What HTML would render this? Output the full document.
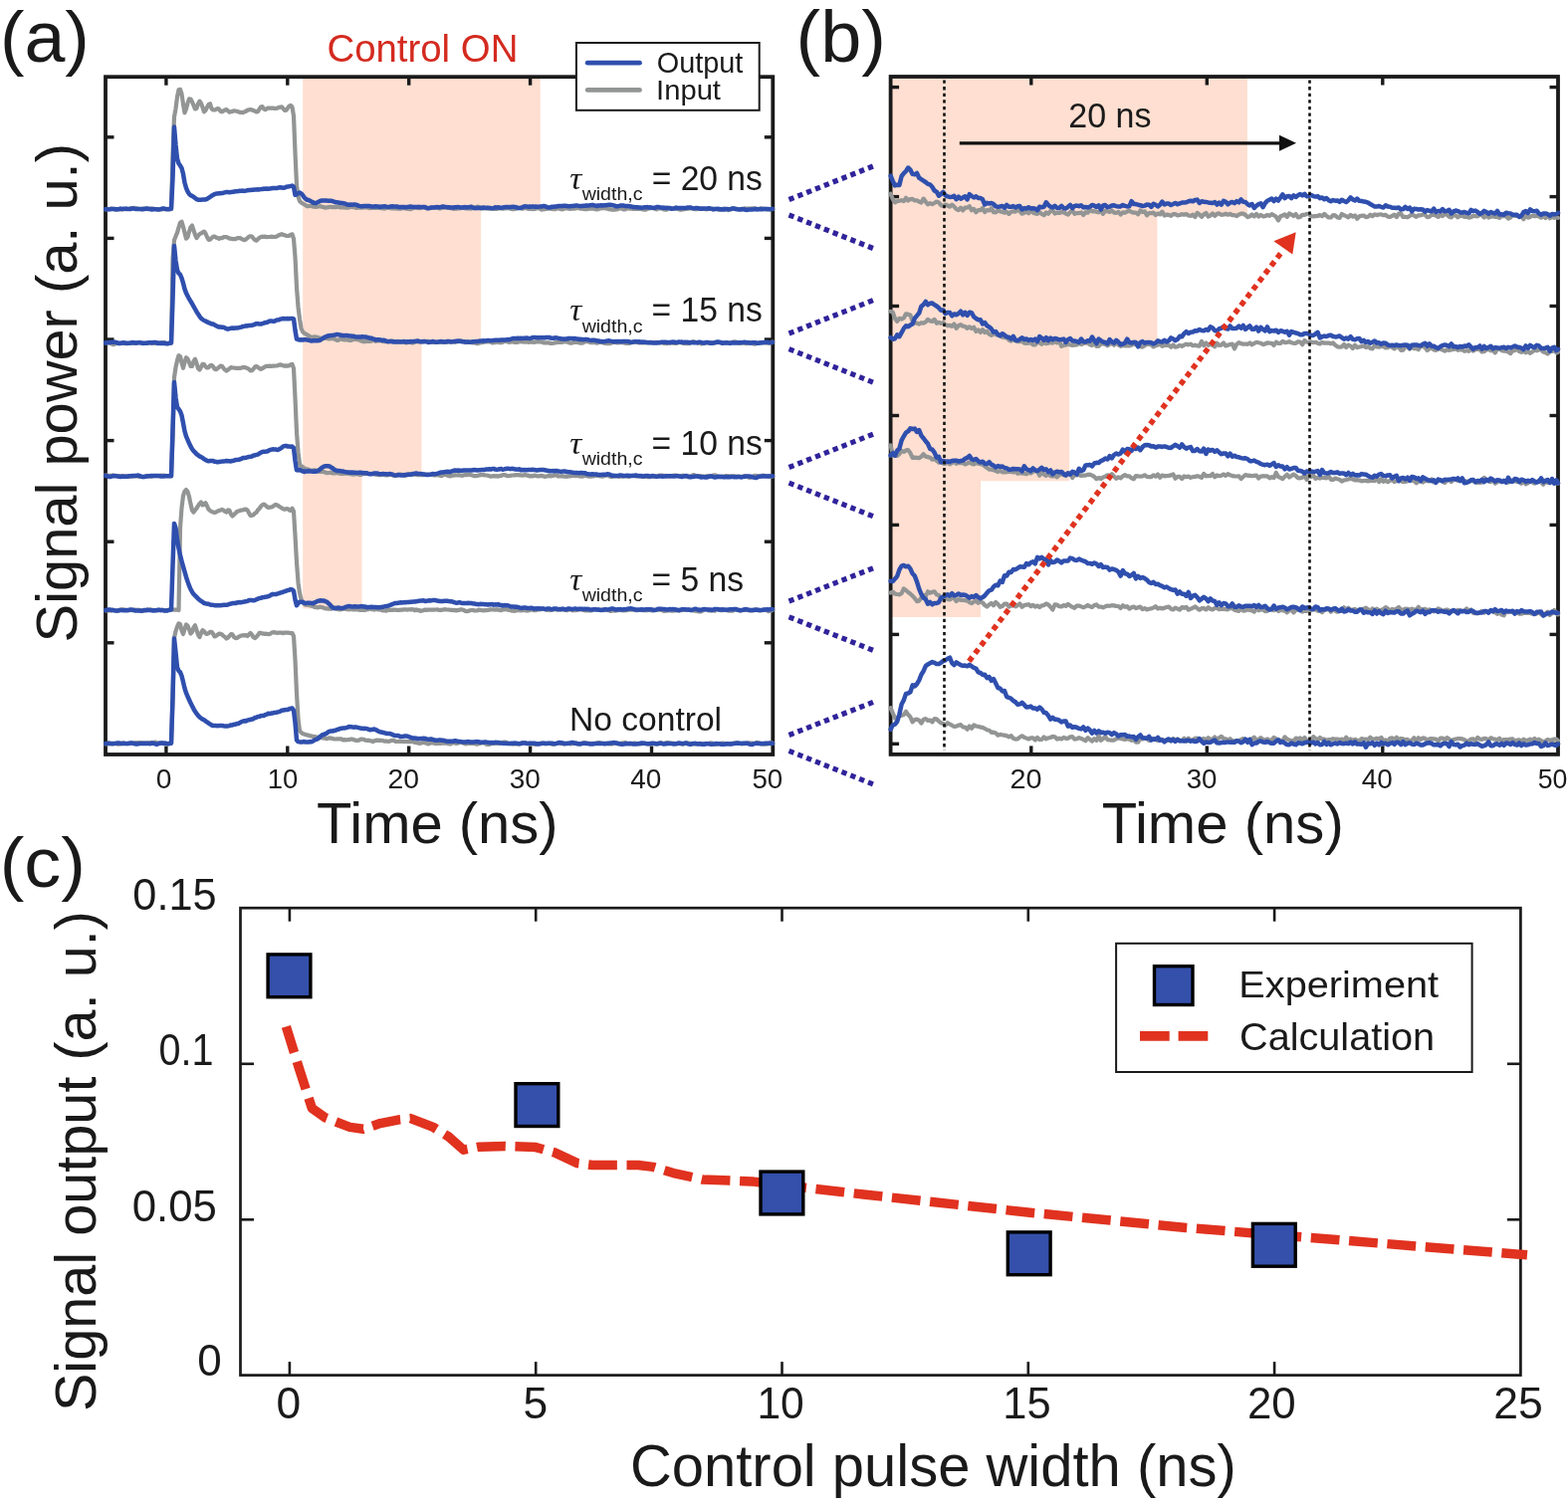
<!DOCTYPE html>
<html><head><meta charset="utf-8"><title>Figure</title>
<style>html,body{margin:0;padding:0;background:#fff;overflow:hidden;width:1575px;height:1512px;}svg{display:block;}</style></head>
<body><svg width="1575" height="1512" viewBox="0 0 1575 1512">
<defs><clipPath id="clipa"><rect x="106.0" y="77.2" width="670.3" height="680.8"/></clipPath>
<clipPath id="clipb"><rect x="894.6" y="77.0" width="670.4" height="680.9"/></clipPath></defs>
<rect width="1575" height="1512" fill="#fff"/>
<polygon points="304.2,77.2 542.8,77.2 542.8,209.5 483.0,209.5 483.0,343.5 423.5,343.5 423.5,477.5 363.5,477.5 363.5,611.5 304.2,611.5" fill="#fedfd1"/>
<rect x="106.0" y="77.2" width="670.3" height="680.8" fill="none" stroke="#1a1a1a" stroke-width="3.8"/>
<line x1="166.9" y1="77.2" x2="166.9" y2="85.7" stroke="#1a1a1a" stroke-width="3.4" />
<line x1="166.9" y1="758.0" x2="166.9" y2="749.5" stroke="#1a1a1a" stroke-width="3.4" />
<line x1="288.8" y1="77.2" x2="288.8" y2="85.7" stroke="#1a1a1a" stroke-width="3.4" />
<line x1="288.8" y1="758.0" x2="288.8" y2="749.5" stroke="#1a1a1a" stroke-width="3.4" />
<line x1="410.7" y1="77.2" x2="410.7" y2="85.7" stroke="#1a1a1a" stroke-width="3.4" />
<line x1="410.7" y1="758.0" x2="410.7" y2="749.5" stroke="#1a1a1a" stroke-width="3.4" />
<line x1="532.6" y1="77.2" x2="532.6" y2="85.7" stroke="#1a1a1a" stroke-width="3.4" />
<line x1="532.6" y1="758.0" x2="532.6" y2="749.5" stroke="#1a1a1a" stroke-width="3.4" />
<line x1="654.5" y1="77.2" x2="654.5" y2="85.7" stroke="#1a1a1a" stroke-width="3.4" />
<line x1="654.5" y1="758.0" x2="654.5" y2="749.5" stroke="#1a1a1a" stroke-width="3.4" />
<line x1="106.0" y1="137.8" x2="114.5" y2="137.8" stroke="#1a1a1a" stroke-width="3.4" />
<line x1="776.3" y1="137.8" x2="767.8" y2="137.8" stroke="#1a1a1a" stroke-width="3.4" />
<line x1="106.0" y1="239.4" x2="114.5" y2="239.4" stroke="#1a1a1a" stroke-width="3.4" />
<line x1="776.3" y1="239.4" x2="767.8" y2="239.4" stroke="#1a1a1a" stroke-width="3.4" />
<line x1="106.0" y1="341.0" x2="114.5" y2="341.0" stroke="#1a1a1a" stroke-width="3.4" />
<line x1="776.3" y1="341.0" x2="767.8" y2="341.0" stroke="#1a1a1a" stroke-width="3.4" />
<line x1="106.0" y1="442.6" x2="114.5" y2="442.6" stroke="#1a1a1a" stroke-width="3.4" />
<line x1="776.3" y1="442.6" x2="767.8" y2="442.6" stroke="#1a1a1a" stroke-width="3.4" />
<line x1="106.0" y1="544.2" x2="114.5" y2="544.2" stroke="#1a1a1a" stroke-width="3.4" />
<line x1="776.3" y1="544.2" x2="767.8" y2="544.2" stroke="#1a1a1a" stroke-width="3.4" />
<line x1="106.0" y1="645.8" x2="114.5" y2="645.8" stroke="#1a1a1a" stroke-width="3.4" />
<line x1="776.3" y1="645.8" x2="767.8" y2="645.8" stroke="#1a1a1a" stroke-width="3.4" />
<line x1="106.0" y1="747.4" x2="114.5" y2="747.4" stroke="#1a1a1a" stroke-width="3.4" />
<line x1="776.3" y1="747.4" x2="767.8" y2="747.4" stroke="#1a1a1a" stroke-width="3.4" />
<path d="M106.0,210.3 L107.5,210.2 L109.0,210.0 L110.5,209.8 L112.0,209.6 L113.5,209.8 L115.0,210.3 L116.5,210.5 L118.0,210.3 L119.5,210.0 L121.0,210.3 L122.5,210.5 L124.0,210.1 L125.5,210.0 L127.0,210.1 L128.5,210.0 L130.0,209.9 L131.5,209.2 L133.0,209.2 L134.5,208.8 L136.0,209.3 L137.5,209.3 L139.0,209.9 L140.5,210.0 L142.0,210.3 L143.5,209.5 L145.0,209.3 L146.5,209.3 L148.0,210.1 L149.5,209.8 L151.0,209.7 L152.5,209.4 L154.0,209.6 L155.5,210.0 L157.0,210.0 L158.5,210.3 L160.0,210.2 L161.5,210.3 L163.0,210.3 L164.5,210.0 L166.0,210.2 L167.5,209.9 L169.0,209.9 L170.5,210.3 L172.0,210.2 L173.5,156.3 L175.0,117.3 L176.5,109.3 L178.0,97.4 L179.5,90.3 L181.0,89.8 L182.5,94.2 L184.0,104.8 L185.5,113.3 L187.0,109.4 L188.5,103.6 L190.0,99.4 L191.5,99.5 L193.0,102.3 L194.5,105.9 L196.0,109.4 L197.5,108.9 L199.0,104.2 L200.5,101.6 L202.0,103.8 L203.5,107.9 L205.0,112.3 L206.5,110.9 L208.0,107.7 L209.5,105.1 L211.0,104.2 L212.5,109.2 L214.0,110.4 L215.5,110.5 L217.0,109.9 L218.5,109.1 L220.0,109.6 L221.5,111.8 L223.0,112.3 L224.5,111.4 L226.0,110.5 L227.5,110.0 L229.0,111.4 L230.5,112.7 L232.0,112.3 L233.5,111.9 L235.0,111.3 L236.5,111.5 L238.0,111.8 L239.5,112.4 L241.0,112.8 L242.5,112.9 L244.0,113.1 L245.5,112.3 L247.0,111.9 L248.5,110.6 L250.0,110.4 L251.5,110.0 L253.0,110.4 L254.5,110.9 L256.0,111.7 L257.5,112.5 L259.0,112.0 L260.5,109.7 L262.0,107.5 L263.5,107.1 L265.0,109.4 L266.5,110.1 L268.0,109.2 L269.5,108.5 L271.0,108.6 L272.5,108.6 L274.0,108.7 L275.5,108.8 L277.0,108.9 L278.5,108.7 L280.0,107.8 L281.5,107.7 L283.0,107.4 L284.5,109.2 L286.0,111.0 L287.5,110.7 L289.0,108.6 L290.5,106.6 L292.0,105.9 L293.5,107.5 L295.0,116.6 L296.5,154.0 L298.0,186.6 L299.5,197.3 L301.0,202.0 L302.5,203.5 L304.0,204.5 L305.5,205.3 L307.0,206.2 L308.5,207.1 L310.0,207.1 L311.5,207.0 L313.0,207.0 L314.5,207.6 L316.0,207.7 L317.5,208.0 L319.0,207.5 L320.5,207.5 L322.0,207.2 L323.5,207.8 L325.0,208.0 L326.5,208.7 L328.0,208.4 L329.5,208.3 L331.0,207.9 L332.5,207.8 L334.0,208.1 L335.5,208.1 L337.0,208.2 L338.5,207.8 L340.0,207.7 L341.5,208.3 L343.0,208.5 L344.5,208.5 L346.0,208.1 L347.5,208.7 L349.0,208.7 L350.5,208.5 L352.0,208.0 L353.5,207.9 L355.0,208.2 L356.5,208.4 L358.0,208.9 L359.5,208.5 L361.0,208.7 L362.5,208.5 L364.0,208.7 L365.5,208.3 L367.0,208.1 L368.5,208.5 L370.0,208.7 L371.5,209.1 L373.0,208.8 L374.5,208.8 L376.0,208.6 L377.5,208.8 L379.0,208.8 L380.5,208.9 L382.0,208.8 L383.5,209.2 L385.0,209.4 L386.5,209.6 L388.0,209.1 L389.5,208.5 L391.0,208.7 L392.5,209.1 L394.0,209.5 L395.5,209.4 L397.0,209.3 L398.5,209.6 L400.0,209.7 L401.5,209.4 L403.0,209.6 L404.5,209.0 L406.0,209.3 L407.5,209.1 L409.0,209.7 L410.5,210.0 L412.0,210.2 L413.5,209.7 L415.0,208.7 L416.5,208.5 L418.0,208.6 L419.5,209.0 L421.0,209.1 L422.5,208.9 L424.0,208.3 L425.5,208.2 L427.0,208.6 L428.5,209.2 L430.0,209.1 L431.5,208.9 L433.0,208.5 L434.5,208.5 L436.0,208.4 L437.5,208.4 L439.0,208.6 L440.5,208.9 L442.0,209.4 L443.5,209.0 L445.0,208.9 L446.5,208.5 L448.0,208.5 L449.5,208.8 L451.0,208.8 L452.5,209.2 L454.0,209.2 L455.5,210.0 L457.0,209.5 L458.5,209.7 L460.0,209.1 L461.5,209.5 L463.0,208.9 L464.5,208.8 L466.0,209.0 L467.5,209.4 L469.0,209.5 L470.5,209.3 L472.0,209.6 L473.5,209.6 L475.0,209.1 L476.5,208.6 L478.0,208.0 L479.5,207.7 L481.0,207.8 L482.5,208.7 L484.0,209.6 L485.5,209.5 L487.0,208.8 L488.5,209.1 L490.0,209.5 L491.5,209.8 L493.0,209.5 L494.5,209.4 L496.0,209.7 L497.5,209.8 L499.0,209.9 L500.5,209.4 L502.0,209.4 L503.5,209.1 L505.0,209.7 L506.5,209.2 L508.0,209.4 L509.5,209.1 L511.0,209.1 L512.5,209.6 L514.0,210.0 L515.5,210.3 L517.0,210.0 L518.5,209.7 L520.0,209.1 L521.5,209.0 L523.0,208.9 L524.5,209.6 L526.0,209.3 L527.5,209.2 L529.0,209.1 L530.5,209.8 L532.0,209.9 L533.5,210.0 L535.0,210.1 L536.5,209.9 L538.0,209.8 L539.5,208.8 L541.0,209.4 L542.5,209.8 L544.0,210.6 L545.5,210.3 L547.0,210.1 L548.5,209.9 L550.0,209.7 L551.5,209.6 L553.0,209.5 L554.5,210.0 L556.0,210.2 L557.5,210.2 L559.0,209.6 L560.5,209.3 L562.0,209.8 L563.5,210.1 L565.0,210.3 L566.5,209.7 L568.0,209.3 L569.5,209.3 L571.0,209.6 L572.5,209.8 L574.0,209.8 L575.5,209.5 L577.0,209.6 L578.5,209.2 L580.0,209.2 L581.5,209.0 L583.0,209.7 L584.5,209.5 L586.0,209.9 L587.5,210.1 L589.0,210.2 L590.5,209.9 L592.0,209.6 L593.5,209.6 L595.0,209.5 L596.5,209.6 L598.0,210.2 L599.5,210.4 L601.0,210.2 L602.5,209.4 L604.0,209.5 L605.5,209.2 L607.0,209.2 L608.5,209.5 L610.0,209.6 L611.5,210.2 L613.0,210.3 L614.5,210.6 L616.0,210.5 L617.5,210.6 L619.0,210.5 L620.5,210.1 L622.0,209.2 L623.5,209.3 L625.0,209.9 L626.5,210.5 L628.0,210.3 L629.5,209.6 L631.0,209.2 L632.5,209.6 L634.0,209.7 L635.5,209.9 L637.0,209.9 L638.5,209.9 L640.0,209.9 L641.5,209.8 L643.0,209.9 L644.5,210.0 L646.0,210.5 L647.5,210.7 L649.0,210.6 L650.5,209.6 L652.0,209.5 L653.5,209.0 L655.0,209.1 L656.5,209.2 L658.0,209.9 L659.5,210.3 L661.0,209.6 L662.5,209.3 L664.0,209.1 L665.5,209.8 L667.0,210.5 L668.5,210.8 L670.0,210.4 L671.5,209.4 L673.0,209.4 L674.5,209.5 L676.0,209.5 L677.5,209.6 L679.0,209.3 L680.5,210.0 L682.0,210.2 L683.5,210.8 L685.0,210.4 L686.5,210.3 L688.0,209.9 L689.5,209.9 L691.0,209.7 L692.5,209.4 L694.0,209.1 L695.5,209.4 L697.0,209.7 L698.5,210.2 L700.0,210.2 L701.5,209.8 L703.0,209.5 L704.5,209.3 L706.0,209.9 L707.5,210.0 L709.0,210.3 L710.5,210.2 L712.0,210.0 L713.5,209.4 L715.0,209.6 L716.5,210.1 L718.0,209.8 L719.5,210.0 L721.0,210.0 L722.5,210.9 L724.0,210.4 L725.5,210.2 L727.0,209.5 L728.5,210.3 L730.0,210.3 L731.5,211.1 L733.0,210.2 L734.5,210.3 L736.0,209.4 L737.5,209.5 L739.0,209.7 L740.5,209.8 L742.0,210.2 L743.5,210.0 L745.0,210.1 L746.5,209.7 L748.0,209.4 L749.5,209.7 L751.0,209.7 L752.5,209.6 L754.0,209.5 L755.5,209.4 L757.0,209.3 L758.5,209.3 L760.0,209.9 L761.5,209.8 L763.0,209.8 L764.5,209.4 L766.0,209.5 L767.5,209.8 L769.0,209.8 L770.5,210.5 L772.0,210.1 L773.5,210.3 L775.0,209.8 L776.0,210.0" fill="none" stroke="#939594" stroke-width="4.2" stroke-linejoin="round" stroke-linecap="round" />
<path d="M106.0,210.2 L107.5,210.1 L109.0,210.4 L110.5,210.3 L112.0,210.1 L113.5,209.9 L115.0,210.0 L116.5,210.4 L118.0,210.2 L119.5,210.2 L121.0,209.6 L122.5,210.0 L124.0,209.8 L125.5,209.7 L127.0,209.6 L128.5,210.0 L130.0,210.1 L131.5,209.9 L133.0,209.5 L134.5,209.6 L136.0,209.9 L137.5,209.9 L139.0,210.0 L140.5,210.0 L142.0,210.0 L143.5,210.3 L145.0,209.9 L146.5,209.8 L148.0,209.4 L149.5,210.0 L151.0,210.1 L152.5,210.6 L154.0,210.2 L155.5,210.3 L157.0,210.2 L158.5,210.6 L160.0,210.4 L161.5,210.1 L163.0,209.5 L164.5,209.4 L166.0,209.9 L167.5,210.2 L169.0,210.3 L170.5,209.9 L172.0,209.6 L173.5,179.1 L175.0,127.6 L176.5,145.8 L178.0,159.5 L179.5,164.2 L181.0,166.3 L182.5,168.8 L184.0,174.8 L185.5,183.5 L187.0,188.9 L188.5,192.4 L190.0,194.9 L191.5,196.2 L193.0,196.9 L194.5,197.9 L196.0,199.0 L197.5,200.1 L199.0,200.7 L200.5,200.7 L202.0,200.7 L203.5,200.4 L205.0,200.5 L206.5,200.4 L208.0,199.8 L209.5,198.8 L211.0,197.8 L212.5,196.8 L214.0,195.9 L215.5,195.1 L217.0,194.6 L218.5,194.6 L220.0,194.3 L221.5,194.3 L223.0,194.0 L224.5,193.7 L226.0,193.3 L227.5,193.1 L229.0,193.1 L230.5,193.2 L232.0,193.1 L233.5,192.8 L235.0,192.7 L236.5,192.2 L238.0,192.2 L239.5,192.0 L241.0,191.7 L242.5,191.7 L244.0,191.6 L245.5,191.9 L247.0,191.6 L248.5,191.3 L250.0,191.0 L251.5,190.9 L253.0,190.7 L254.5,190.8 L256.0,190.4 L257.5,190.5 L259.0,190.3 L260.5,190.4 L262.0,190.1 L263.5,190.1 L265.0,189.6 L266.5,189.7 L268.0,189.5 L269.5,189.7 L271.0,189.6 L272.5,189.3 L274.0,189.0 L275.5,189.0 L277.0,189.1 L278.5,189.0 L280.0,188.4 L281.5,188.3 L283.0,188.4 L284.5,188.8 L286.0,188.6 L287.5,187.8 L289.0,187.6 L290.5,187.3 L292.0,186.9 L293.5,186.6 L295.0,187.8 L296.5,195.8 L298.0,195.3 L299.5,194.2 L301.0,193.6 L302.5,194.4 L304.0,196.0 L305.5,198.2 L307.0,199.8 L308.5,200.7 L310.0,201.0 L311.5,201.7 L313.0,202.6 L314.5,203.5 L316.0,204.0 L317.5,204.0 L319.0,203.3 L320.5,202.5 L322.0,201.7 L323.5,201.4 L325.0,201.5 L326.5,201.5 L328.0,201.6 L329.5,201.7 L331.0,201.7 L332.5,201.7 L334.0,202.1 L335.5,202.6 L337.0,203.3 L338.5,203.2 L340.0,203.5 L341.5,203.7 L343.0,204.2 L344.5,204.1 L346.0,204.4 L347.5,205.0 L349.0,205.6 L350.5,205.7 L352.0,205.6 L353.5,205.8 L355.0,205.5 L356.5,205.6 L358.0,205.7 L359.5,206.5 L361.0,206.9 L362.5,207.2 L364.0,207.2 L365.5,207.0 L367.0,207.0 L368.5,206.9 L370.0,206.9 L371.5,207.0 L373.0,207.6 L374.5,207.6 L376.0,207.5 L377.5,207.2 L379.0,207.6 L380.5,207.6 L382.0,208.0 L383.5,207.5 L385.0,207.5 L386.5,207.2 L388.0,207.6 L389.5,207.9 L391.0,207.7 L392.5,207.4 L394.0,207.3 L395.5,207.5 L397.0,207.4 L398.5,207.5 L400.0,207.8 L401.5,208.2 L403.0,207.9 L404.5,208.1 L406.0,207.9 L407.5,208.3 L409.0,207.9 L410.5,207.8 L412.0,207.6 L413.5,207.7 L415.0,208.0 L416.5,208.1 L418.0,208.0 L419.5,207.9 L421.0,207.8 L422.5,208.2 L424.0,208.1 L425.5,208.1 L427.0,208.1 L428.5,208.8 L430.0,209.3 L431.5,209.1 L433.0,208.6 L434.5,208.6 L436.0,208.5 L437.5,208.3 L439.0,208.0 L440.5,208.2 L442.0,208.2 L443.5,207.8 L445.0,207.5 L446.5,207.8 L448.0,208.0 L449.5,208.3 L451.0,208.2 L452.5,208.5 L454.0,208.4 L455.5,208.5 L457.0,208.2 L458.5,208.2 L460.0,207.9 L461.5,208.3 L463.0,208.4 L464.5,208.5 L466.0,208.2 L467.5,208.1 L469.0,208.5 L470.5,208.2 L472.0,208.0 L473.5,207.8 L475.0,208.7 L476.5,209.1 L478.0,209.2 L479.5,208.8 L481.0,209.0 L482.5,209.0 L484.0,208.8 L485.5,208.6 L487.0,208.8 L488.5,209.0 L490.0,208.6 L491.5,208.9 L493.0,209.1 L494.5,209.4 L496.0,209.1 L497.5,208.3 L499.0,208.4 L500.5,208.2 L502.0,208.7 L503.5,208.7 L505.0,208.6 L506.5,208.2 L508.0,208.1 L509.5,208.0 L511.0,208.3 L512.5,208.1 L514.0,208.1 L515.5,207.7 L517.0,208.1 L518.5,208.2 L520.0,208.8 L521.5,209.0 L523.0,208.9 L524.5,208.3 L526.0,207.6 L527.5,207.3 L529.0,207.6 L530.5,207.7 L532.0,207.5 L533.5,207.7 L535.0,207.3 L536.5,207.7 L538.0,207.6 L539.5,207.8 L541.0,207.7 L542.5,207.6 L544.0,207.5 L545.5,207.1 L547.0,207.1 L548.5,207.6 L550.0,208.3 L551.5,208.6 L553.0,208.3 L554.5,207.7 L556.0,207.7 L557.5,207.5 L559.0,207.5 L560.5,207.1 L562.0,207.1 L563.5,207.0 L565.0,207.0 L566.5,206.7 L568.0,206.7 L569.5,207.1 L571.0,207.3 L572.5,207.3 L574.0,206.9 L575.5,207.0 L577.0,206.8 L578.5,206.6 L580.0,206.6 L581.5,206.9 L583.0,206.9 L584.5,207.0 L586.0,206.8 L587.5,206.8 L589.0,206.3 L590.5,206.7 L592.0,206.3 L593.5,206.2 L595.0,205.8 L596.5,206.3 L598.0,206.6 L599.5,207.0 L601.0,206.5 L602.5,206.5 L604.0,206.2 L605.5,206.4 L607.0,206.3 L608.5,206.2 L610.0,205.9 L611.5,205.8 L613.0,205.7 L614.5,206.1 L616.0,206.3 L617.5,206.7 L619.0,207.3 L620.5,207.2 L622.0,206.9 L623.5,206.5 L625.0,206.5 L626.5,206.6 L628.0,207.0 L629.5,207.1 L631.0,207.1 L632.5,207.2 L634.0,207.4 L635.5,208.0 L637.0,208.0 L638.5,208.2 L640.0,208.2 L641.5,208.6 L643.0,208.6 L644.5,208.7 L646.0,208.6 L647.5,208.3 L649.0,208.2 L650.5,208.1 L652.0,208.5 L653.5,208.3 L655.0,208.7 L656.5,208.7 L658.0,208.8 L659.5,208.1 L661.0,208.1 L662.5,208.3 L664.0,208.6 L665.5,208.7 L667.0,208.6 L668.5,208.9 L670.0,208.8 L671.5,208.9 L673.0,209.0 L674.5,209.8 L676.0,209.6 L677.5,209.3 L679.0,208.6 L680.5,209.0 L682.0,208.9 L683.5,209.0 L685.0,208.9 L686.5,209.0 L688.0,208.9 L689.5,208.8 L691.0,208.6 L692.5,208.5 L694.0,208.6 L695.5,209.1 L697.0,209.4 L698.5,209.1 L700.0,209.0 L701.5,209.2 L703.0,209.7 L704.5,209.8 L706.0,209.5 L707.5,209.6 L709.0,209.5 L710.5,209.4 L712.0,209.2 L713.5,209.6 L715.0,209.9 L716.5,210.4 L718.0,210.0 L719.5,210.1 L721.0,209.8 L722.5,209.9 L724.0,210.2 L725.5,210.5 L727.0,210.5 L728.5,210.0 L730.0,209.9 L731.5,210.3 L733.0,210.2 L734.5,209.8 L736.0,209.5 L737.5,209.6 L739.0,210.0 L740.5,210.3 L742.0,210.4 L743.5,210.6 L745.0,210.1 L746.5,210.2 L748.0,210.5 L749.5,210.9 L751.0,210.8 L752.5,210.4 L754.0,210.6 L755.5,210.4 L757.0,210.3 L758.5,210.0 L760.0,210.4 L761.5,210.3 L763.0,210.3 L764.5,210.1 L766.0,210.2 L767.5,210.1 L769.0,210.0 L770.5,209.9 L772.0,210.1 L773.5,210.2 L775.0,210.1 L776.0,209.9" fill="none" stroke="#2f4fae" stroke-width="4.5" stroke-linejoin="round" stroke-linecap="round" />
<path d="M106.0,344.5 L107.5,344.5 L109.0,344.1 L110.5,344.7 L112.0,345.3 L113.5,346.1 L115.0,345.7 L116.5,345.3 L118.0,344.8 L119.5,344.9 L121.0,345.1 L122.5,344.7 L124.0,345.0 L125.5,344.5 L127.0,345.3 L128.5,345.0 L130.0,344.9 L131.5,344.5 L133.0,344.7 L134.5,344.9 L136.0,344.9 L137.5,344.6 L139.0,344.0 L140.5,344.1 L142.0,344.5 L143.5,345.1 L145.0,344.9 L146.5,344.9 L148.0,344.8 L149.5,344.6 L151.0,344.2 L152.5,344.7 L154.0,344.5 L155.5,344.9 L157.0,344.4 L158.5,344.4 L160.0,344.5 L161.5,344.6 L163.0,344.6 L164.5,344.1 L166.0,344.4 L167.5,345.1 L169.0,345.1 L170.5,344.9 L172.0,344.8 L173.5,260.1 L175.0,241.3 L176.5,237.4 L178.0,233.9 L179.5,228.7 L181.0,223.7 L182.5,222.7 L184.0,227.8 L185.5,233.7 L187.0,239.7 L188.5,238.3 L190.0,232.6 L191.5,228.3 L193.0,226.6 L194.5,231.5 L196.0,235.8 L197.5,239.1 L199.0,236.8 L200.5,235.1 L202.0,234.4 L203.5,233.4 L205.0,232.6 L206.5,234.6 L208.0,238.0 L209.5,240.9 L211.0,240.6 L212.5,239.2 L214.0,237.8 L215.5,237.6 L217.0,238.6 L218.5,239.0 L220.0,239.8 L221.5,239.0 L223.0,239.2 L224.5,238.2 L226.0,238.0 L227.5,238.1 L229.0,238.7 L230.5,239.6 L232.0,239.7 L233.5,240.1 L235.0,240.0 L236.5,240.1 L238.0,239.3 L239.5,239.1 L241.0,239.0 L242.5,239.9 L244.0,240.7 L245.5,241.2 L247.0,240.5 L248.5,239.2 L250.0,237.8 L251.5,237.3 L253.0,237.5 L254.5,239.5 L256.0,241.0 L257.5,241.7 L259.0,240.2 L260.5,239.0 L262.0,238.0 L263.5,237.7 L265.0,237.8 L266.5,237.6 L268.0,238.2 L269.5,238.0 L271.0,238.0 L272.5,237.7 L274.0,237.8 L275.5,238.0 L277.0,237.9 L278.5,237.3 L280.0,236.3 L281.5,235.8 L283.0,235.1 L284.5,235.9 L286.0,236.2 L287.5,237.0 L289.0,237.0 L290.5,236.8 L292.0,235.7 L293.5,235.4 L295.0,239.9 L296.5,258.7 L298.0,288.9 L299.5,308.5 L301.0,320.3 L302.5,329.7 L304.0,333.3 L305.5,334.8 L307.0,335.4 L308.5,336.5 L310.0,337.2 L311.5,338.2 L313.0,338.6 L314.5,338.8 L316.0,338.3 L317.5,338.7 L319.0,338.8 L320.5,339.5 L322.0,339.5 L323.5,340.3 L325.0,339.7 L326.5,339.8 L328.0,339.7 L329.5,340.3 L331.0,340.3 L332.5,340.1 L334.0,339.9 L335.5,340.3 L337.0,341.1 L338.5,341.9 L340.0,341.7 L341.5,340.8 L343.0,340.5 L344.5,341.2 L346.0,341.3 L347.5,341.3 L349.0,341.3 L350.5,341.9 L352.0,342.0 L353.5,341.6 L355.0,341.0 L356.5,341.0 L358.0,340.7 L359.5,341.4 L361.0,341.5 L362.5,342.4 L364.0,342.7 L365.5,343.3 L367.0,342.9 L368.5,342.7 L370.0,342.8 L371.5,343.0 L373.0,342.5 L374.5,342.2 L376.0,342.0 L377.5,342.8 L379.0,342.2 L380.5,342.4 L382.0,341.9 L383.5,342.6 L385.0,343.0 L386.5,343.1 L388.0,343.2 L389.5,343.5 L391.0,342.8 L392.5,342.9 L394.0,342.4 L395.5,343.1 L397.0,343.2 L398.5,343.1 L400.0,342.9 L401.5,343.1 L403.0,343.5 L404.5,343.5 L406.0,343.8 L407.5,344.4 L409.0,344.2 L410.5,343.7 L412.0,343.7 L413.5,344.4 L415.0,344.4 L416.5,343.6 L418.0,343.3 L419.5,343.2 L421.0,343.1 L422.5,343.4 L424.0,343.4 L425.5,343.4 L427.0,342.9 L428.5,343.0 L430.0,342.9 L431.5,343.2 L433.0,343.5 L434.5,343.8 L436.0,344.0 L437.5,343.9 L439.0,343.8 L440.5,343.6 L442.0,343.4 L443.5,343.6 L445.0,343.4 L446.5,343.8 L448.0,343.7 L449.5,343.8 L451.0,343.3 L452.5,343.1 L454.0,343.3 L455.5,343.3 L457.0,343.8 L458.5,343.5 L460.0,343.1 L461.5,342.6 L463.0,342.3 L464.5,342.9 L466.0,343.4 L467.5,344.1 L469.0,343.8 L470.5,343.3 L472.0,343.6 L473.5,344.1 L475.0,344.3 L476.5,344.1 L478.0,344.7 L479.5,345.1 L481.0,344.8 L482.5,344.2 L484.0,344.1 L485.5,343.9 L487.0,343.5 L488.5,343.3 L490.0,343.2 L491.5,343.5 L493.0,343.5 L494.5,344.5 L496.0,344.2 L497.5,344.2 L499.0,343.5 L500.5,343.9 L502.0,344.2 L503.5,344.1 L505.0,343.8 L506.5,343.0 L508.0,342.9 L509.5,343.3 L511.0,343.8 L512.5,343.7 L514.0,343.5 L515.5,343.5 L517.0,343.9 L518.5,343.9 L520.0,343.8 L521.5,343.2 L523.0,343.0 L524.5,343.5 L526.0,343.4 L527.5,343.7 L529.0,343.3 L530.5,343.8 L532.0,343.7 L533.5,343.6 L535.0,343.7 L536.5,343.9 L538.0,343.4 L539.5,343.4 L541.0,343.2 L542.5,343.5 L544.0,343.6 L545.5,344.1 L547.0,344.5 L548.5,344.3 L550.0,344.4 L551.5,344.4 L553.0,344.9 L554.5,345.0 L556.0,344.7 L557.5,344.3 L559.0,344.2 L560.5,343.8 L562.0,343.9 L563.5,343.6 L565.0,343.8 L566.5,343.3 L568.0,343.2 L569.5,343.3 L571.0,344.0 L572.5,344.6 L574.0,344.6 L575.5,344.3 L577.0,343.8 L578.5,343.9 L580.0,343.9 L581.5,344.3 L583.0,344.7 L584.5,344.7 L586.0,344.2 L587.5,343.4 L589.0,343.0 L590.5,343.1 L592.0,343.7 L593.5,344.2 L595.0,344.1 L596.5,343.9 L598.0,344.2 L599.5,344.6 L601.0,344.2 L602.5,343.7 L604.0,343.9 L605.5,344.3 L607.0,344.7 L608.5,345.0 L610.0,345.1 L611.5,345.2 L613.0,345.0 L614.5,344.3 L616.0,343.9 L617.5,343.8 L619.0,344.1 L620.5,344.4 L622.0,344.2 L623.5,344.1 L625.0,344.2 L626.5,344.5 L628.0,344.8 L629.5,344.7 L631.0,344.8 L632.5,344.8 L634.0,343.9 L635.5,343.4 L637.0,343.2 L638.5,343.6 L640.0,343.9 L641.5,344.3 L643.0,344.5 L644.5,344.1 L646.0,344.3 L647.5,344.3 L649.0,344.3 L650.5,343.8 L652.0,344.1 L653.5,344.2 L655.0,344.4 L656.5,344.1 L658.0,344.1 L659.5,343.9 L661.0,344.2 L662.5,344.3 L664.0,344.4 L665.5,344.1 L667.0,345.1 L668.5,344.8 L670.0,345.2 L671.5,344.4 L673.0,344.6 L674.5,344.4 L676.0,344.7 L677.5,345.0 L679.0,344.9 L680.5,344.5 L682.0,344.0 L683.5,344.1 L685.0,344.4 L686.5,344.9 L688.0,344.9 L689.5,345.1 L691.0,345.1 L692.5,345.0 L694.0,344.3 L695.5,343.6 L697.0,343.1 L698.5,344.0 L700.0,344.1 L701.5,344.8 L703.0,344.5 L704.5,345.3 L706.0,345.2 L707.5,345.0 L709.0,344.5 L710.5,344.2 L712.0,344.3 L713.5,344.2 L715.0,344.2 L716.5,344.6 L718.0,344.2 L719.5,344.3 L721.0,343.6 L722.5,344.2 L724.0,344.3 L725.5,344.6 L727.0,344.7 L728.5,344.0 L730.0,344.4 L731.5,344.0 L733.0,344.6 L734.5,344.3 L736.0,343.8 L737.5,343.4 L739.0,343.4 L740.5,344.6 L742.0,344.9 L743.5,344.9 L745.0,344.1 L746.5,344.4 L748.0,344.8 L749.5,345.2 L751.0,344.7 L752.5,343.8 L754.0,344.0 L755.5,344.8 L757.0,345.5 L758.5,345.6 L760.0,345.0 L761.5,344.5 L763.0,344.5 L764.5,344.1 L766.0,344.3 L767.5,344.0 L769.0,344.6 L770.5,344.7 L772.0,344.8 L773.5,344.3 L775.0,343.8 L776.0,343.7" fill="none" stroke="#939594" stroke-width="4.2" stroke-linejoin="round" stroke-linecap="round" />
<path d="M106.0,344.5 L107.5,344.2 L109.0,343.9 L110.5,344.0 L112.0,343.8 L113.5,343.8 L115.0,343.6 L116.5,344.0 L118.0,344.4 L119.5,345.1 L121.0,344.8 L122.5,344.6 L124.0,344.3 L125.5,344.6 L127.0,344.7 L128.5,344.8 L130.0,344.8 L131.5,344.6 L133.0,344.0 L134.5,344.2 L136.0,344.5 L137.5,344.4 L139.0,344.2 L140.5,344.2 L142.0,344.6 L143.5,344.7 L145.0,344.7 L146.5,344.7 L148.0,344.5 L149.5,344.3 L151.0,344.3 L152.5,344.5 L154.0,344.1 L155.5,344.0 L157.0,344.3 L158.5,345.0 L160.0,344.6 L161.5,345.0 L163.0,344.5 L164.5,345.1 L166.0,344.8 L167.5,345.3 L169.0,345.1 L170.5,344.6 L172.0,344.5 L173.5,301.1 L175.0,247.0 L176.5,262.0 L178.0,271.1 L179.5,274.6 L181.0,275.8 L182.5,279.3 L184.0,284.4 L185.5,290.4 L187.0,294.4 L188.5,297.3 L190.0,300.2 L191.5,302.6 L193.0,305.2 L194.5,307.8 L196.0,310.5 L197.5,313.2 L199.0,315.4 L200.5,317.9 L202.0,319.8 L203.5,321.0 L205.0,322.0 L206.5,322.6 L208.0,323.4 L209.5,324.1 L211.0,324.7 L212.5,325.4 L214.0,325.5 L215.5,326.4 L217.0,327.3 L218.5,328.0 L220.0,328.5 L221.5,328.5 L223.0,328.8 L224.5,328.8 L226.0,329.5 L227.5,330.3 L229.0,330.7 L230.5,330.2 L232.0,329.8 L233.5,329.5 L235.0,329.7 L236.5,329.5 L238.0,329.4 L239.5,329.2 L241.0,328.9 L242.5,328.6 L244.0,327.9 L245.5,327.7 L247.0,327.3 L248.5,327.4 L250.0,327.0 L251.5,327.0 L253.0,326.8 L254.5,326.4 L256.0,325.8 L257.5,325.2 L259.0,325.3 L260.5,325.5 L262.0,325.6 L263.5,325.1 L265.0,324.7 L266.5,323.9 L268.0,324.0 L269.5,323.2 L271.0,322.6 L272.5,322.6 L274.0,322.7 L275.5,322.8 L277.0,322.0 L278.5,321.4 L280.0,321.3 L281.5,320.7 L283.0,320.3 L284.5,320.1 L286.0,320.2 L287.5,320.3 L289.0,320.0 L290.5,320.3 L292.0,319.9 L293.5,320.0 L295.0,320.4 L296.5,332.0 L298.0,340.7 L299.5,341.1 L301.0,341.6 L302.5,341.3 L304.0,341.4 L305.5,341.2 L307.0,341.2 L308.5,341.4 L310.0,341.8 L311.5,342.2 L313.0,342.4 L314.5,342.2 L316.0,342.2 L317.5,342.3 L319.0,342.2 L320.5,342.0 L322.0,341.5 L323.5,340.5 L325.0,339.4 L326.5,338.6 L328.0,338.0 L329.5,337.5 L331.0,337.2 L332.5,336.9 L334.0,336.9 L335.5,336.6 L337.0,336.5 L338.5,335.9 L340.0,336.3 L341.5,336.4 L343.0,337.1 L344.5,337.0 L346.0,337.3 L347.5,337.0 L349.0,337.1 L350.5,337.5 L352.0,337.5 L353.5,337.8 L355.0,337.7 L356.5,338.3 L358.0,338.4 L359.5,338.5 L361.0,338.5 L362.5,338.6 L364.0,338.3 L365.5,338.5 L367.0,338.5 L368.5,338.8 L370.0,339.2 L371.5,339.7 L373.0,339.7 L374.5,340.3 L376.0,340.7 L377.5,341.5 L379.0,341.2 L380.5,341.2 L382.0,341.5 L383.5,341.9 L385.0,341.8 L386.5,342.0 L388.0,342.8 L389.5,343.0 L391.0,343.2 L392.5,342.8 L394.0,343.3 L395.5,343.5 L397.0,343.2 L398.5,343.4 L400.0,343.4 L401.5,343.6 L403.0,343.5 L404.5,343.2 L406.0,343.1 L407.5,343.6 L409.0,343.3 L410.5,343.6 L412.0,343.0 L413.5,343.4 L415.0,343.1 L416.5,342.9 L418.0,342.7 L419.5,342.5 L421.0,343.0 L422.5,343.3 L424.0,343.3 L425.5,343.1 L427.0,343.1 L428.5,343.4 L430.0,343.9 L431.5,343.7 L433.0,343.5 L434.5,343.1 L436.0,343.3 L437.5,343.7 L439.0,343.7 L440.5,343.4 L442.0,343.2 L443.5,343.1 L445.0,343.5 L446.5,343.5 L448.0,343.4 L449.5,342.9 L451.0,343.0 L452.5,343.4 L454.0,343.4 L455.5,343.1 L457.0,343.0 L458.5,342.7 L460.0,342.5 L461.5,342.7 L463.0,342.9 L464.5,343.3 L466.0,343.3 L467.5,343.6 L469.0,343.5 L470.5,343.7 L472.0,343.7 L473.5,343.6 L475.0,343.3 L476.5,343.2 L478.0,343.1 L479.5,342.9 L481.0,342.8 L482.5,342.5 L484.0,342.4 L485.5,342.3 L487.0,342.6 L488.5,342.2 L490.0,342.1 L491.5,342.1 L493.0,342.4 L494.5,342.1 L496.0,342.1 L497.5,341.7 L499.0,341.8 L500.5,341.8 L502.0,341.8 L503.5,341.6 L505.0,341.5 L506.5,341.4 L508.0,341.4 L509.5,341.1 L511.0,341.3 L512.5,340.8 L514.0,340.4 L515.5,339.9 L517.0,340.0 L518.5,339.9 L520.0,339.8 L521.5,340.0 L523.0,339.8 L524.5,339.9 L526.0,339.8 L527.5,339.7 L529.0,339.6 L530.5,339.8 L532.0,339.9 L533.5,339.7 L535.0,339.2 L536.5,338.9 L538.0,339.1 L539.5,339.2 L541.0,339.3 L542.5,339.2 L544.0,339.2 L545.5,339.3 L547.0,339.4 L548.5,339.0 L550.0,339.0 L551.5,338.9 L553.0,339.6 L554.5,339.7 L556.0,339.8 L557.5,339.3 L559.0,339.4 L560.5,339.7 L562.0,339.9 L563.5,340.4 L565.0,340.4 L566.5,340.7 L568.0,340.4 L569.5,340.5 L571.0,340.0 L572.5,340.0 L574.0,340.0 L575.5,340.3 L577.0,340.0 L578.5,340.3 L580.0,340.4 L581.5,340.9 L583.0,340.7 L584.5,340.9 L586.0,341.2 L587.5,341.1 L589.0,341.1 L590.5,341.2 L592.0,341.6 L593.5,341.9 L595.0,341.8 L596.5,341.8 L598.0,342.0 L599.5,342.5 L601.0,342.5 L602.5,343.0 L604.0,343.0 L605.5,343.3 L607.0,343.2 L608.5,342.8 L610.0,342.6 L611.5,342.3 L613.0,342.6 L614.5,342.9 L616.0,343.2 L617.5,343.3 L619.0,343.0 L620.5,343.2 L622.0,342.9 L623.5,343.2 L625.0,343.0 L626.5,343.1 L628.0,343.0 L629.5,342.9 L631.0,343.1 L632.5,343.5 L634.0,343.9 L635.5,343.7 L637.0,343.4 L638.5,343.1 L640.0,343.4 L641.5,343.2 L643.0,343.7 L644.5,343.5 L646.0,343.8 L647.5,343.6 L649.0,343.9 L650.5,344.2 L652.0,344.3 L653.5,344.1 L655.0,344.3 L656.5,344.4 L658.0,344.4 L659.5,344.4 L661.0,344.2 L662.5,344.2 L664.0,343.8 L665.5,343.7 L667.0,343.8 L668.5,343.8 L670.0,344.0 L671.5,343.9 L673.0,344.2 L674.5,343.7 L676.0,343.6 L677.5,343.7 L679.0,344.0 L680.5,344.0 L682.0,343.4 L683.5,343.7 L685.0,343.6 L686.5,344.2 L688.0,343.7 L689.5,344.0 L691.0,343.8 L692.5,344.4 L694.0,344.0 L695.5,344.0 L697.0,344.3 L698.5,344.3 L700.0,344.3 L701.5,343.8 L703.0,343.7 L704.5,344.1 L706.0,344.5 L707.5,344.6 L709.0,344.0 L710.5,343.9 L712.0,344.3 L713.5,344.8 L715.0,344.8 L716.5,344.4 L718.0,344.2 L719.5,343.7 L721.0,343.6 L722.5,343.8 L724.0,344.0 L725.5,344.8 L727.0,344.6 L728.5,344.6 L730.0,344.3 L731.5,344.6 L733.0,344.9 L734.5,344.5 L736.0,344.2 L737.5,344.4 L739.0,344.5 L740.5,344.3 L742.0,344.2 L743.5,344.3 L745.0,344.3 L746.5,344.0 L748.0,343.8 L749.5,344.1 L751.0,344.2 L752.5,344.6 L754.0,344.7 L755.5,344.3 L757.0,344.2 L758.5,344.2 L760.0,344.7 L761.5,344.8 L763.0,344.5 L764.5,344.2 L766.0,344.2 L767.5,344.1 L769.0,343.8 L770.5,343.8 L772.0,343.9 L773.5,344.3 L775.0,343.8 L776.0,343.9" fill="none" stroke="#2f4fae" stroke-width="4.5" stroke-linejoin="round" stroke-linecap="round" />
<path d="M106.0,477.6 L107.5,477.5 L109.0,478.0 L110.5,477.7 L112.0,478.0 L113.5,477.5 L115.0,477.9 L116.5,477.9 L118.0,478.2 L119.5,478.0 L121.0,478.4 L122.5,478.1 L124.0,478.6 L125.5,478.2 L127.0,478.8 L128.5,478.6 L130.0,478.8 L131.5,478.2 L133.0,478.7 L134.5,478.2 L136.0,478.3 L137.5,478.5 L139.0,478.8 L140.5,478.9 L142.0,479.0 L143.5,479.1 L145.0,478.8 L146.5,478.4 L148.0,477.9 L149.5,478.5 L151.0,478.6 L152.5,478.8 L154.0,478.3 L155.5,478.0 L157.0,478.2 L158.5,478.1 L160.0,478.2 L161.5,477.6 L163.0,477.8 L164.5,477.5 L166.0,478.0 L167.5,478.2 L169.0,478.0 L170.5,478.2 L172.0,478.1 L173.5,439.8 L175.0,379.4 L176.5,369.1 L178.0,362.2 L179.5,357.2 L181.0,358.0 L182.5,364.5 L184.0,369.8 L185.5,364.0 L187.0,359.2 L188.5,360.6 L190.0,364.0 L191.5,367.9 L193.0,368.0 L194.5,363.0 L196.0,360.8 L197.5,365.0 L199.0,370.1 L200.5,371.6 L202.0,368.7 L203.5,365.8 L205.0,366.1 L206.5,368.4 L208.0,369.5 L209.5,369.1 L211.0,367.3 L212.5,366.9 L214.0,368.2 L215.5,370.7 L217.0,371.1 L218.5,370.2 L220.0,369.0 L221.5,367.6 L223.0,367.8 L224.5,369.9 L226.0,371.4 L227.5,372.6 L229.0,371.5 L230.5,370.3 L232.0,369.0 L233.5,369.5 L235.0,369.5 L236.5,369.8 L238.0,369.8 L239.5,369.9 L241.0,369.8 L242.5,369.6 L244.0,369.1 L245.5,369.2 L247.0,369.4 L248.5,370.0 L250.0,370.8 L251.5,372.4 L253.0,372.2 L254.5,370.7 L256.0,368.6 L257.5,367.9 L259.0,369.0 L260.5,370.1 L262.0,370.9 L263.5,370.2 L265.0,369.1 L266.5,368.3 L268.0,367.8 L269.5,367.8 L271.0,367.6 L272.5,367.8 L274.0,367.7 L275.5,367.7 L277.0,367.5 L278.5,367.3 L280.0,366.9 L281.5,366.3 L283.0,366.9 L284.5,367.3 L286.0,367.8 L287.5,367.4 L289.0,367.7 L290.5,367.2 L292.0,366.4 L293.5,366.0 L295.0,370.1 L296.5,400.6 L298.0,434.3 L299.5,454.2 L301.0,465.7 L302.5,468.7 L304.0,469.0 L305.5,470.6 L307.0,470.8 L308.5,471.5 L310.0,471.7 L311.5,472.6 L313.0,472.6 L314.5,472.6 L316.0,472.2 L317.5,472.9 L319.0,473.2 L320.5,473.8 L322.0,473.8 L323.5,473.9 L325.0,474.0 L326.5,474.5 L328.0,475.2 L329.5,475.0 L331.0,475.0 L332.5,474.5 L334.0,475.3 L335.5,475.1 L337.0,475.3 L338.5,474.9 L340.0,475.4 L341.5,475.6 L343.0,475.9 L344.5,475.8 L346.0,475.8 L347.5,475.5 L349.0,475.6 L350.5,475.8 L352.0,476.2 L353.5,476.4 L355.0,476.7 L356.5,476.5 L358.0,476.1 L359.5,476.2 L361.0,476.9 L362.5,477.0 L364.0,476.3 L365.5,475.7 L367.0,475.8 L368.5,475.8 L370.0,476.0 L371.5,475.8 L373.0,475.9 L374.5,476.2 L376.0,476.4 L377.5,476.8 L379.0,476.7 L380.5,477.1 L382.0,477.1 L383.5,477.0 L385.0,476.5 L386.5,477.1 L388.0,477.3 L389.5,477.3 L391.0,476.8 L392.5,476.8 L394.0,477.3 L395.5,477.8 L397.0,478.0 L398.5,477.7 L400.0,477.2 L401.5,476.5 L403.0,476.7 L404.5,476.8 L406.0,477.9 L407.5,477.9 L409.0,477.3 L410.5,476.3 L412.0,476.4 L413.5,476.6 L415.0,476.6 L416.5,476.4 L418.0,476.9 L419.5,477.1 L421.0,477.0 L422.5,477.1 L424.0,477.0 L425.5,477.1 L427.0,476.5 L428.5,476.5 L430.0,476.8 L431.5,476.8 L433.0,477.0 L434.5,477.0 L436.0,477.4 L437.5,477.5 L439.0,477.0 L440.5,477.4 L442.0,477.7 L443.5,478.1 L445.0,477.2 L446.5,476.7 L448.0,476.9 L449.5,477.8 L451.0,478.2 L452.5,478.3 L454.0,477.7 L455.5,477.6 L457.0,477.2 L458.5,477.5 L460.0,477.2 L461.5,477.4 L463.0,477.7 L464.5,477.8 L466.0,477.2 L467.5,476.9 L469.0,477.1 L470.5,476.8 L472.0,476.9 L473.5,477.2 L475.0,477.7 L476.5,478.1 L478.0,478.1 L479.5,478.0 L481.0,477.5 L482.5,477.1 L484.0,477.1 L485.5,477.2 L487.0,477.4 L488.5,477.5 L490.0,477.8 L491.5,478.2 L493.0,478.6 L494.5,478.3 L496.0,478.2 L497.5,478.4 L499.0,478.2 L500.5,478.6 L502.0,478.0 L503.5,477.9 L505.0,477.0 L506.5,477.2 L508.0,477.4 L509.5,478.2 L511.0,478.1 L512.5,478.0 L514.0,477.5 L515.5,477.5 L517.0,477.2 L518.5,477.3 L520.0,477.0 L521.5,477.4 L523.0,477.4 L524.5,477.7 L526.0,477.4 L527.5,477.0 L529.0,477.7 L530.5,477.6 L532.0,478.5 L533.5,478.1 L535.0,478.4 L536.5,477.7 L538.0,477.8 L539.5,478.4 L541.0,478.4 L542.5,478.1 L544.0,477.9 L545.5,478.3 L547.0,478.9 L548.5,478.5 L550.0,478.5 L551.5,477.6 L553.0,478.4 L554.5,478.0 L556.0,477.8 L557.5,477.2 L559.0,477.3 L560.5,478.5 L562.0,478.4 L563.5,478.5 L565.0,478.1 L566.5,478.7 L568.0,478.6 L569.5,478.8 L571.0,478.5 L572.5,478.4 L574.0,478.2 L575.5,478.0 L577.0,477.9 L578.5,478.2 L580.0,477.8 L581.5,478.4 L583.0,478.3 L584.5,478.7 L586.0,478.2 L587.5,477.8 L589.0,478.0 L590.5,478.4 L592.0,478.6 L593.5,478.7 L595.0,478.4 L596.5,478.4 L598.0,477.7 L599.5,478.0 L601.0,478.0 L602.5,478.3 L604.0,478.5 L605.5,478.6 L607.0,477.9 L608.5,477.6 L610.0,477.1 L611.5,478.1 L613.0,478.8 L614.5,479.1 L616.0,478.8 L617.5,478.1 L619.0,478.3 L620.5,478.5 L622.0,478.9 L623.5,478.5 L625.0,478.8 L626.5,478.2 L628.0,478.5 L629.5,478.4 L631.0,478.9 L632.5,478.6 L634.0,478.0 L635.5,477.7 L637.0,478.0 L638.5,478.5 L640.0,478.3 L641.5,478.4 L643.0,478.3 L644.5,478.8 L646.0,478.8 L647.5,479.0 L649.0,479.0 L650.5,479.1 L652.0,478.9 L653.5,479.2 L655.0,478.5 L656.5,478.7 L658.0,478.1 L659.5,478.6 L661.0,478.0 L662.5,477.5 L664.0,477.5 L665.5,477.6 L667.0,478.2 L668.5,477.9 L670.0,478.5 L671.5,478.5 L673.0,478.8 L674.5,478.2 L676.0,477.9 L677.5,477.7 L679.0,477.7 L680.5,477.9 L682.0,478.2 L683.5,478.0 L685.0,477.9 L686.5,477.7 L688.0,478.1 L689.5,478.7 L691.0,479.2 L692.5,479.0 L694.0,478.1 L695.5,477.5 L697.0,477.1 L698.5,477.8 L700.0,478.0 L701.5,478.5 L703.0,478.1 L704.5,478.3 L706.0,478.7 L707.5,478.7 L709.0,478.6 L710.5,478.0 L712.0,478.4 L713.5,478.2 L715.0,478.1 L716.5,477.5 L718.0,477.4 L719.5,477.8 L721.0,478.9 L722.5,479.0 L724.0,479.2 L725.5,478.5 L727.0,478.5 L728.5,478.2 L730.0,478.0 L731.5,478.1 L733.0,478.8 L734.5,478.3 L736.0,478.6 L737.5,478.2 L739.0,478.5 L740.5,478.5 L742.0,478.6 L743.5,478.8 L745.0,478.9 L746.5,478.8 L748.0,478.2 L749.5,478.5 L751.0,479.0 L752.5,479.8 L754.0,479.7 L755.5,478.7 L757.0,478.4 L758.5,477.8 L760.0,478.1 L761.5,478.4 L763.0,478.4 L764.5,478.5 L766.0,477.7 L767.5,477.9 L769.0,478.0 L770.5,478.3 L772.0,478.1 L773.5,478.6 L775.0,478.5 L776.0,478.7" fill="none" stroke="#939594" stroke-width="4.2" stroke-linejoin="round" stroke-linecap="round" />
<path d="M106.0,477.9 L107.5,478.2 L109.0,478.8 L110.5,479.1 L112.0,478.7 L113.5,478.1 L115.0,478.3 L116.5,478.2 L118.0,478.6 L119.5,478.7 L121.0,478.9 L122.5,478.7 L124.0,478.6 L125.5,478.9 L127.0,478.6 L128.5,478.7 L130.0,478.2 L131.5,478.3 L133.0,478.1 L134.5,478.1 L136.0,478.1 L137.5,477.7 L139.0,477.6 L140.5,478.1 L142.0,478.8 L143.5,479.1 L145.0,479.1 L146.5,478.6 L148.0,478.4 L149.5,478.2 L151.0,478.1 L152.5,477.9 L154.0,477.9 L155.5,478.0 L157.0,478.0 L158.5,478.1 L160.0,478.1 L161.5,478.5 L163.0,478.5 L164.5,478.4 L166.0,478.3 L167.5,478.2 L169.0,478.2 L170.5,478.0 L172.0,478.2 L173.5,431.6 L175.0,384.0 L176.5,399.5 L178.0,408.9 L179.5,411.1 L181.0,413.3 L182.5,417.3 L184.0,425.0 L185.5,433.2 L187.0,438.4 L188.5,441.9 L190.0,445.3 L191.5,448.4 L193.0,451.1 L194.5,453.1 L196.0,454.5 L197.5,456.3 L199.0,457.2 L200.5,458.4 L202.0,459.1 L203.5,460.0 L205.0,461.1 L206.5,462.0 L208.0,462.9 L209.5,463.3 L211.0,462.9 L212.5,463.1 L214.0,462.9 L215.5,463.7 L217.0,463.8 L218.5,464.3 L220.0,464.1 L221.5,463.7 L223.0,463.6 L224.5,463.4 L226.0,463.3 L227.5,463.0 L229.0,463.3 L230.5,463.3 L232.0,463.5 L233.5,462.9 L235.0,462.7 L236.5,462.1 L238.0,462.0 L239.5,461.8 L241.0,461.5 L242.5,460.9 L244.0,460.1 L245.5,460.1 L247.0,459.8 L248.5,459.4 L250.0,458.9 L251.5,458.8 L253.0,458.5 L254.5,457.6 L256.0,457.4 L257.5,456.9 L259.0,456.6 L260.5,455.6 L262.0,454.8 L263.5,454.0 L265.0,453.8 L266.5,453.7 L268.0,453.6 L269.5,452.9 L271.0,452.1 L272.5,451.7 L274.0,451.3 L275.5,451.5 L277.0,451.4 L278.5,452.0 L280.0,451.6 L281.5,450.8 L283.0,449.7 L284.5,448.4 L286.0,448.1 L287.5,447.9 L289.0,448.6 L290.5,448.6 L292.0,448.7 L293.5,448.6 L295.0,449.9 L296.5,463.0 L298.0,472.3 L299.5,472.4 L301.0,472.0 L302.5,472.8 L304.0,473.4 L305.5,474.0 L307.0,473.5 L308.5,473.4 L310.0,473.2 L311.5,473.5 L313.0,473.5 L314.5,473.7 L316.0,473.6 L317.5,473.7 L319.0,473.1 L320.5,472.2 L322.0,471.0 L323.5,469.7 L325.0,468.9 L326.5,468.2 L328.0,468.2 L329.5,468.2 L331.0,468.5 L332.5,469.4 L334.0,470.2 L335.5,471.6 L337.0,472.3 L338.5,472.9 L340.0,473.1 L341.5,473.1 L343.0,473.4 L344.5,473.5 L346.0,473.9 L347.5,474.2 L349.0,474.6 L350.5,474.4 L352.0,474.7 L353.5,474.5 L355.0,474.7 L356.5,474.8 L358.0,475.0 L359.5,475.0 L361.0,474.7 L362.5,474.8 L364.0,475.1 L365.5,475.3 L367.0,475.2 L368.5,475.3 L370.0,476.0 L371.5,476.2 L373.0,476.2 L374.5,475.9 L376.0,475.5 L377.5,475.5 L379.0,475.4 L380.5,476.3 L382.0,476.3 L383.5,476.3 L385.0,476.1 L386.5,476.2 L388.0,476.3 L389.5,476.4 L391.0,476.1 L392.5,476.3 L394.0,476.5 L395.5,477.2 L397.0,477.4 L398.5,477.3 L400.0,477.1 L401.5,477.2 L403.0,477.5 L404.5,477.5 L406.0,477.2 L407.5,476.9 L409.0,476.7 L410.5,476.8 L412.0,476.8 L413.5,476.5 L415.0,476.0 L416.5,475.8 L418.0,475.5 L419.5,476.0 L421.0,476.1 L422.5,476.1 L424.0,476.2 L425.5,476.4 L427.0,476.7 L428.5,476.9 L430.0,477.1 L431.5,476.7 L433.0,476.5 L434.5,476.1 L436.0,476.3 L437.5,476.2 L439.0,475.8 L440.5,475.4 L442.0,474.8 L443.5,474.6 L445.0,474.5 L446.5,474.2 L448.0,473.9 L449.5,473.8 L451.0,473.9 L452.5,474.0 L454.0,473.3 L455.5,472.9 L457.0,472.5 L458.5,472.8 L460.0,472.6 L461.5,472.8 L463.0,472.7 L464.5,472.7 L466.0,472.4 L467.5,472.5 L469.0,472.4 L470.5,472.5 L472.0,472.4 L473.5,472.5 L475.0,472.2 L476.5,472.1 L478.0,472.2 L479.5,472.4 L481.0,472.3 L482.5,472.2 L484.0,472.0 L485.5,472.1 L487.0,471.9 L488.5,471.4 L490.0,471.4 L491.5,471.3 L493.0,471.5 L494.5,471.1 L496.0,470.9 L497.5,471.6 L499.0,471.7 L500.5,471.5 L502.0,471.2 L503.5,471.0 L505.0,471.7 L506.5,471.4 L508.0,471.0 L509.5,470.7 L511.0,470.8 L512.5,471.2 L514.0,470.8 L515.5,471.0 L517.0,471.4 L518.5,471.5 L520.0,471.7 L521.5,471.3 L523.0,472.2 L524.5,472.1 L526.0,472.3 L527.5,472.1 L529.0,472.2 L530.5,472.1 L532.0,472.1 L533.5,472.0 L535.0,471.8 L536.5,472.1 L538.0,472.2 L539.5,472.5 L541.0,472.3 L542.5,472.1 L544.0,472.0 L545.5,471.9 L547.0,472.2 L548.5,472.5 L550.0,472.9 L551.5,473.0 L553.0,473.2 L554.5,473.2 L556.0,473.1 L557.5,473.2 L559.0,472.9 L560.5,473.5 L562.0,473.6 L563.5,473.9 L565.0,473.6 L566.5,473.6 L568.0,473.6 L569.5,474.1 L571.0,474.2 L572.5,474.3 L574.0,474.4 L575.5,474.7 L577.0,474.9 L578.5,475.1 L580.0,475.0 L581.5,475.2 L583.0,475.1 L584.5,475.1 L586.0,475.2 L587.5,475.2 L589.0,475.8 L590.5,476.3 L592.0,476.4 L593.5,476.5 L595.0,476.3 L596.5,476.5 L598.0,476.4 L599.5,476.6 L601.0,477.1 L602.5,477.1 L604.0,476.9 L605.5,476.7 L607.0,476.7 L608.5,477.0 L610.0,476.2 L611.5,476.5 L613.0,476.9 L614.5,477.7 L616.0,477.8 L617.5,478.1 L619.0,478.0 L620.5,478.1 L622.0,477.6 L623.5,477.6 L625.0,477.7 L626.5,478.0 L628.0,477.9 L629.5,477.8 L631.0,477.8 L632.5,477.9 L634.0,478.0 L635.5,478.0 L637.0,477.8 L638.5,477.5 L640.0,478.0 L641.5,478.0 L643.0,478.3 L644.5,478.1 L646.0,478.6 L647.5,478.3 L649.0,478.1 L650.5,478.0 L652.0,478.5 L653.5,478.4 L655.0,478.1 L656.5,478.2 L658.0,478.6 L659.5,478.9 L661.0,478.6 L662.5,478.5 L664.0,478.4 L665.5,478.7 L667.0,478.4 L668.5,478.4 L670.0,478.2 L671.5,478.3 L673.0,478.3 L674.5,478.3 L676.0,478.5 L677.5,478.5 L679.0,478.3 L680.5,478.3 L682.0,478.4 L683.5,478.7 L685.0,479.0 L686.5,478.6 L688.0,478.3 L689.5,478.1 L691.0,478.5 L692.5,479.2 L694.0,479.3 L695.5,479.1 L697.0,478.8 L698.5,478.5 L700.0,478.4 L701.5,478.8 L703.0,479.0 L704.5,479.5 L706.0,479.1 L707.5,479.4 L709.0,479.3 L710.5,479.4 L712.0,478.9 L713.5,478.5 L715.0,478.6 L716.5,479.1 L718.0,479.5 L719.5,479.2 L721.0,479.0 L722.5,478.7 L724.0,479.0 L725.5,479.1 L727.0,479.4 L728.5,479.1 L730.0,479.2 L731.5,479.2 L733.0,479.3 L734.5,478.9 L736.0,478.9 L737.5,479.2 L739.0,479.3 L740.5,479.2 L742.0,478.9 L743.5,479.2 L745.0,479.4 L746.5,478.9 L748.0,478.8 L749.5,478.4 L751.0,478.6 L752.5,478.6 L754.0,478.8 L755.5,479.1 L757.0,479.6 L758.5,479.9 L760.0,479.9 L761.5,479.0 L763.0,478.7 L764.5,478.4 L766.0,478.4 L767.5,478.3 L769.0,478.4 L770.5,478.5 L772.0,478.5 L773.5,478.4 L775.0,478.1 L776.0,478.3" fill="none" stroke="#2f4fae" stroke-width="4.5" stroke-linejoin="round" stroke-linecap="round" />
<path d="M106.0,613.1 L107.5,613.4 L109.0,613.6 L110.5,613.5 L112.0,613.4 L113.5,612.7 L115.0,613.4 L116.5,613.6 L118.0,613.9 L119.5,612.9 L121.0,612.7 L122.5,612.3 L124.0,612.4 L125.5,612.5 L127.0,613.0 L128.5,613.1 L130.0,613.1 L131.5,612.8 L133.0,613.1 L134.5,612.7 L136.0,612.7 L137.5,612.8 L139.0,612.6 L140.5,613.4 L142.0,613.1 L143.5,613.9 L145.0,613.1 L146.5,613.4 L148.0,612.5 L149.5,612.5 L151.0,612.3 L152.5,612.9 L154.0,612.9 L155.5,613.2 L157.0,612.8 L158.5,613.1 L160.0,612.9 L161.5,613.3 L163.0,612.8 L164.5,613.1 L166.0,613.1 L167.5,613.5 L169.0,612.8 L170.5,612.1 L172.0,611.9 L173.5,612.3 L175.0,612.7 L176.5,612.7 L178.0,612.4 L179.5,613.0 L181.0,530.2 L182.5,510.2 L184.0,498.1 L185.5,493.5 L187.0,492.1 L188.5,493.8 L190.0,499.0 L191.5,506.3 L193.0,512.7 L194.5,514.6 L196.0,512.6 L197.5,510.5 L199.0,508.2 L200.5,506.0 L202.0,504.6 L203.5,507.4 L205.0,506.4 L206.5,505.2 L208.0,508.4 L209.5,511.7 L211.0,513.0 L212.5,513.8 L214.0,514.5 L215.5,514.9 L217.0,514.4 L218.5,513.7 L220.0,512.9 L221.5,512.4 L223.0,511.9 L224.5,512.6 L226.0,513.9 L227.5,514.5 L229.0,512.4 L230.5,512.8 L232.0,516.7 L233.5,518.5 L235.0,517.0 L236.5,515.6 L238.0,513.9 L239.5,513.4 L241.0,513.0 L242.5,512.5 L244.0,512.3 L245.5,511.9 L247.0,511.6 L248.5,512.5 L250.0,515.3 L251.5,518.0 L253.0,517.9 L254.5,517.3 L256.0,515.7 L257.5,514.8 L259.0,512.4 L260.5,511.0 L262.0,508.8 L263.5,507.3 L265.0,506.5 L266.5,507.5 L268.0,509.0 L269.5,509.9 L271.0,509.7 L272.5,509.4 L274.0,509.0 L275.5,507.7 L277.0,507.0 L278.5,507.5 L280.0,508.5 L281.5,509.5 L283.0,510.3 L284.5,511.4 L286.0,511.7 L287.5,511.2 L289.0,511.2 L290.5,512.4 L292.0,512.9 L293.5,510.8 L295.0,513.8 L296.5,538.5 L298.0,565.2 L299.5,585.2 L301.0,595.7 L302.5,602.0 L304.0,605.1 L305.5,606.7 L307.0,607.7 L308.5,607.6 L310.0,607.9 L311.5,608.3 L313.0,608.8 L314.5,609.0 L316.0,609.9 L317.5,610.2 L319.0,610.4 L320.5,609.9 L322.0,609.8 L323.5,610.2 L325.0,610.6 L326.5,611.3 L328.0,611.3 L329.5,611.7 L331.0,611.5 L332.5,611.8 L334.0,611.0 L335.5,610.6 L337.0,610.9 L338.5,611.9 L340.0,612.3 L341.5,612.4 L343.0,611.9 L344.5,611.8 L346.0,611.5 L347.5,611.9 L349.0,612.1 L350.5,612.3 L352.0,612.0 L353.5,612.1 L355.0,612.3 L356.5,612.2 L358.0,612.5 L359.5,612.5 L361.0,612.8 L362.5,612.8 L364.0,613.0 L365.5,613.0 L367.0,612.8 L368.5,612.3 L370.0,612.1 L371.5,611.4 L373.0,612.1 L374.5,611.7 L376.0,612.6 L377.5,612.0 L379.0,612.3 L380.5,612.1 L382.0,612.4 L383.5,612.9 L385.0,613.4 L386.5,613.5 L388.0,613.6 L389.5,612.9 L391.0,613.0 L392.5,612.8 L394.0,612.9 L395.5,612.7 L397.0,612.6 L398.5,612.8 L400.0,612.9 L401.5,612.8 L403.0,612.6 L404.5,612.7 L406.0,612.3 L407.5,612.4 L409.0,612.6 L410.5,612.3 L412.0,612.3 L413.5,612.1 L415.0,612.4 L416.5,613.3 L418.0,612.4 L419.5,613.2 L421.0,612.9 L422.5,613.9 L424.0,613.5 L425.5,613.1 L427.0,612.6 L428.5,612.9 L430.0,612.5 L431.5,612.7 L433.0,612.7 L434.5,612.7 L436.0,612.7 L437.5,612.5 L439.0,612.4 L440.5,612.8 L442.0,612.9 L443.5,612.9 L445.0,612.5 L446.5,612.2 L448.0,612.4 L449.5,612.5 L451.0,612.5 L452.5,613.0 L454.0,612.7 L455.5,613.2 L457.0,612.9 L458.5,613.4 L460.0,612.9 L461.5,612.8 L463.0,612.3 L464.5,612.6 L466.0,613.0 L467.5,613.9 L469.0,614.1 L470.5,613.9 L472.0,613.3 L473.5,613.0 L475.0,612.9 L476.5,613.4 L478.0,613.5 L479.5,613.3 L481.0,612.7 L482.5,612.8 L484.0,613.2 L485.5,613.3 L487.0,613.2 L488.5,613.1 L490.0,613.0 L491.5,612.6 L493.0,612.2 L494.5,612.5 L496.0,612.3 L497.5,612.7 L499.0,612.2 L500.5,612.7 L502.0,612.9 L503.5,613.1 L505.0,612.4 L506.5,612.4 L508.0,612.0 L509.5,612.6 L511.0,612.7 L512.5,613.1 L514.0,613.6 L515.5,613.6 L517.0,613.8 L518.5,613.3 L520.0,613.1 L521.5,613.2 L523.0,613.4 L524.5,613.1 L526.0,613.2 L527.5,613.0 L529.0,613.6 L530.5,613.5 L532.0,613.0 L533.5,612.4 L535.0,612.8 L536.5,613.2 L538.0,613.1 L539.5,612.7 L541.0,612.5 L542.5,612.4 L544.0,611.7 L545.5,611.4 L547.0,611.9 L548.5,612.6 L550.0,612.9 L551.5,612.9 L553.0,613.1 L554.5,612.6 L556.0,612.4 L557.5,612.1 L559.0,612.3 L560.5,612.2 L562.0,612.4 L563.5,612.7 L565.0,612.4 L566.5,612.3 L568.0,613.0 L569.5,613.1 L571.0,612.8 L572.5,612.3 L574.0,612.7 L575.5,613.3 L577.0,612.9 L578.5,613.1 L580.0,612.7 L581.5,612.7 L583.0,612.3 L584.5,612.4 L586.0,613.0 L587.5,613.3 L589.0,613.3 L590.5,613.4 L592.0,613.2 L593.5,613.5 L595.0,612.8 L596.5,612.4 L598.0,612.4 L599.5,612.4 L601.0,612.7 L602.5,612.5 L604.0,612.7 L605.5,612.7 L607.0,613.1 L608.5,612.5 L610.0,612.9 L611.5,613.2 L613.0,613.9 L614.5,613.6 L616.0,613.2 L617.5,613.7 L619.0,613.4 L620.5,613.2 L622.0,612.6 L623.5,613.1 L625.0,613.1 L626.5,613.4 L628.0,613.1 L629.5,613.1 L631.0,612.7 L632.5,612.6 L634.0,612.6 L635.5,612.7 L637.0,612.6 L638.5,613.1 L640.0,613.1 L641.5,613.0 L643.0,612.9 L644.5,612.7 L646.0,613.2 L647.5,612.9 L649.0,613.2 L650.5,613.1 L652.0,612.9 L653.5,612.9 L655.0,613.4 L656.5,612.9 L658.0,612.9 L659.5,612.5 L661.0,612.8 L662.5,612.4 L664.0,612.9 L665.5,613.1 L667.0,614.1 L668.5,613.6 L670.0,613.7 L671.5,613.3 L673.0,613.3 L674.5,613.6 L676.0,613.6 L677.5,613.5 L679.0,613.2 L680.5,613.5 L682.0,613.6 L683.5,613.3 L685.0,612.8 L686.5,612.6 L688.0,612.7 L689.5,612.8 L691.0,612.5 L692.5,612.6 L694.0,612.8 L695.5,613.3 L697.0,613.4 L698.5,613.8 L700.0,613.6 L701.5,614.4 L703.0,614.1 L704.5,614.3 L706.0,613.3 L707.5,612.2 L709.0,612.0 L710.5,612.2 L712.0,613.5 L713.5,613.2 L715.0,613.7 L716.5,613.1 L718.0,613.7 L719.5,612.4 L721.0,612.5 L722.5,612.2 L724.0,613.1 L725.5,613.1 L727.0,612.9 L728.5,613.0 L730.0,613.1 L731.5,613.6 L733.0,613.6 L734.5,613.7 L736.0,613.6 L737.5,612.9 L739.0,612.2 L740.5,612.6 L742.0,613.2 L743.5,613.6 L745.0,613.1 L746.5,612.9 L748.0,612.9 L749.5,612.9 L751.0,612.7 L752.5,613.3 L754.0,613.5 L755.5,613.5 L757.0,612.5 L758.5,612.3 L760.0,612.6 L761.5,613.2 L763.0,613.3 L764.5,613.2 L766.0,612.9 L767.5,612.6 L769.0,613.0 L770.5,613.2 L772.0,614.2 L773.5,613.6 L775.0,613.4 L776.0,612.8" fill="none" stroke="#939594" stroke-width="4.2" stroke-linejoin="round" stroke-linecap="round" />
<path d="M106.0,613.1 L107.5,612.8 L109.0,612.5 L110.5,612.5 L112.0,612.9 L113.5,613.1 L115.0,613.3 L116.5,613.4 L118.0,613.5 L119.5,613.3 L121.0,613.0 L122.5,613.1 L124.0,613.3 L125.5,613.3 L127.0,613.3 L128.5,613.0 L130.0,612.7 L131.5,612.4 L133.0,612.7 L134.5,613.0 L136.0,613.6 L137.5,613.4 L139.0,613.5 L140.5,613.5 L142.0,613.7 L143.5,613.4 L145.0,613.0 L146.5,612.9 L148.0,612.8 L149.5,612.9 L151.0,613.1 L152.5,613.2 L154.0,613.5 L155.5,613.2 L157.0,613.3 L158.5,612.8 L160.0,612.8 L161.5,612.9 L163.0,612.9 L164.5,613.4 L166.0,613.5 L167.5,613.6 L169.0,613.2 L170.5,612.8 L172.0,612.6 L173.5,568.3 L175.0,525.9 L176.5,530.6 L178.0,542.2 L179.5,550.8 L181.0,557.9 L182.5,563.8 L184.0,569.2 L185.5,574.4 L187.0,579.7 L188.5,584.3 L190.0,588.4 L191.5,592.0 L193.0,594.7 L194.5,596.9 L196.0,598.3 L197.5,599.8 L199.0,601.6 L200.5,602.8 L202.0,603.9 L203.5,604.8 L205.0,606.0 L206.5,606.3 L208.0,606.7 L209.5,606.8 L211.0,607.5 L212.5,607.7 L214.0,607.8 L215.5,608.2 L217.0,608.3 L218.5,608.3 L220.0,608.2 L221.5,608.2 L223.0,608.1 L224.5,607.8 L226.0,607.8 L227.5,607.7 L229.0,607.5 L230.5,606.8 L232.0,606.5 L233.5,606.1 L235.0,606.1 L236.5,606.0 L238.0,605.5 L239.5,605.2 L241.0,605.1 L242.5,605.2 L244.0,604.8 L245.5,604.6 L247.0,604.2 L248.5,603.9 L250.0,603.1 L251.5,603.0 L253.0,603.1 L254.5,603.3 L256.0,603.0 L257.5,602.3 L259.0,601.6 L260.5,601.0 L262.0,600.8 L263.5,600.2 L265.0,600.0 L266.5,599.7 L268.0,599.6 L269.5,599.2 L271.0,598.4 L272.5,597.6 L274.0,596.9 L275.5,596.9 L277.0,597.0 L278.5,596.6 L280.0,596.2 L281.5,595.4 L283.0,595.3 L284.5,594.6 L286.0,594.2 L287.5,593.6 L289.0,593.0 L290.5,592.7 L292.0,592.1 L293.5,592.4 L295.0,593.8 L296.5,602.7 L298.0,608.3 L299.5,606.2 L301.0,604.7 L302.5,604.8 L304.0,604.9 L305.5,605.6 L307.0,606.2 L308.5,605.8 L310.0,605.7 L311.5,605.8 L313.0,606.1 L314.5,606.2 L316.0,605.3 L317.5,604.8 L319.0,603.7 L320.5,603.7 L322.0,603.2 L323.5,603.5 L325.0,603.5 L326.5,604.0 L328.0,604.6 L329.5,605.8 L331.0,607.1 L332.5,608.8 L334.0,610.2 L335.5,611.2 L337.0,611.1 L338.5,610.8 L340.0,610.5 L341.5,610.9 L343.0,610.9 L344.5,611.0 L346.0,610.4 L347.5,609.7 L349.0,609.3 L350.5,608.9 L352.0,609.3 L353.5,609.4 L355.0,609.4 L356.5,609.2 L358.0,609.5 L359.5,609.5 L361.0,609.4 L362.5,609.1 L364.0,609.2 L365.5,609.4 L367.0,609.6 L368.5,610.2 L370.0,610.0 L371.5,609.9 L373.0,609.7 L374.5,610.1 L376.0,610.1 L377.5,610.0 L379.0,610.3 L380.5,610.2 L382.0,610.2 L383.5,609.8 L385.0,609.7 L386.5,609.3 L388.0,609.2 L389.5,608.7 L391.0,608.4 L392.5,607.7 L394.0,607.1 L395.5,606.5 L397.0,605.9 L398.5,605.9 L400.0,605.7 L401.5,605.5 L403.0,605.3 L404.5,605.4 L406.0,605.1 L407.5,605.2 L409.0,604.9 L410.5,605.1 L412.0,604.8 L413.5,604.7 L415.0,604.4 L416.5,604.5 L418.0,604.2 L419.5,604.1 L421.0,603.7 L422.5,603.6 L424.0,603.5 L425.5,603.3 L427.0,604.0 L428.5,603.8 L430.0,603.6 L431.5,603.2 L433.0,603.4 L434.5,603.1 L436.0,603.1 L437.5,603.1 L439.0,603.5 L440.5,603.7 L442.0,603.9 L443.5,604.0 L445.0,604.0 L446.5,603.7 L448.0,603.7 L449.5,603.8 L451.0,604.1 L452.5,604.3 L454.0,604.3 L455.5,604.8 L457.0,605.4 L458.5,605.7 L460.0,605.6 L461.5,605.2 L463.0,605.7 L464.5,605.9 L466.0,606.1 L467.5,605.9 L469.0,605.9 L470.5,605.8 L472.0,606.1 L473.5,606.0 L475.0,606.4 L476.5,606.4 L478.0,606.9 L479.5,606.9 L481.0,607.2 L482.5,606.8 L484.0,607.1 L485.5,606.9 L487.0,607.2 L488.5,607.2 L490.0,607.6 L491.5,607.2 L493.0,607.3 L494.5,606.9 L496.0,607.7 L497.5,607.3 L499.0,607.5 L500.5,607.1 L502.0,607.9 L503.5,608.0 L505.0,608.5 L506.5,608.1 L508.0,608.2 L509.5,608.2 L511.0,608.6 L512.5,609.1 L514.0,609.5 L515.5,609.5 L517.0,609.7 L518.5,609.6 L520.0,609.9 L521.5,610.4 L523.0,610.8 L524.5,610.9 L526.0,610.5 L527.5,610.4 L529.0,610.9 L530.5,610.9 L532.0,611.0 L533.5,610.8 L535.0,611.0 L536.5,611.7 L538.0,611.3 L539.5,611.5 L541.0,611.3 L542.5,611.6 L544.0,611.4 L545.5,611.4 L547.0,611.9 L548.5,611.9 L550.0,611.5 L551.5,611.4 L553.0,611.9 L554.5,612.2 L556.0,611.5 L557.5,611.5 L559.0,611.6 L560.5,612.3 L562.0,612.0 L563.5,612.0 L565.0,611.6 L566.5,612.0 L568.0,612.4 L569.5,612.0 L571.0,611.5 L572.5,611.6 L574.0,612.0 L575.5,611.9 L577.0,611.6 L578.5,611.6 L580.0,611.9 L581.5,611.8 L583.0,611.8 L584.5,611.7 L586.0,611.9 L587.5,611.8 L589.0,611.9 L590.5,611.8 L592.0,612.2 L593.5,612.4 L595.0,612.4 L596.5,612.2 L598.0,612.3 L599.5,612.5 L601.0,612.5 L602.5,612.8 L604.0,612.9 L605.5,612.8 L607.0,612.3 L608.5,612.2 L610.0,612.4 L611.5,612.4 L613.0,612.0 L614.5,611.5 L616.0,611.6 L617.5,612.1 L619.0,612.6 L620.5,612.3 L622.0,612.3 L623.5,612.1 L625.0,612.4 L626.5,612.3 L628.0,612.3 L629.5,612.1 L631.0,611.6 L632.5,611.5 L634.0,611.3 L635.5,611.8 L637.0,612.0 L638.5,612.6 L640.0,612.6 L641.5,612.5 L643.0,612.4 L644.5,612.2 L646.0,612.5 L647.5,612.5 L649.0,612.3 L650.5,612.2 L652.0,612.2 L653.5,612.3 L655.0,612.5 L656.5,612.9 L658.0,612.9 L659.5,612.6 L661.0,611.8 L662.5,611.8 L664.0,611.8 L665.5,611.9 L667.0,612.0 L668.5,612.2 L670.0,612.5 L671.5,612.3 L673.0,612.0 L674.5,612.3 L676.0,612.1 L677.5,612.2 L679.0,612.5 L680.5,612.8 L682.0,613.0 L683.5,612.6 L685.0,612.3 L686.5,612.2 L688.0,612.3 L689.5,612.4 L691.0,612.4 L692.5,612.6 L694.0,613.1 L695.5,612.7 L697.0,612.2 L698.5,611.7 L700.0,612.2 L701.5,612.5 L703.0,613.0 L704.5,612.6 L706.0,612.3 L707.5,612.1 L709.0,612.3 L710.5,612.4 L712.0,612.4 L713.5,612.5 L715.0,612.8 L716.5,612.5 L718.0,612.0 L719.5,611.9 L721.0,612.1 L722.5,612.5 L724.0,612.5 L725.5,612.3 L727.0,612.5 L728.5,612.6 L730.0,612.7 L731.5,612.4 L733.0,612.3 L734.5,612.3 L736.0,612.3 L737.5,612.1 L739.0,612.0 L740.5,612.5 L742.0,612.8 L743.5,613.2 L745.0,612.9 L746.5,612.8 L748.0,612.2 L749.5,612.1 L751.0,612.5 L752.5,612.8 L754.0,613.1 L755.5,613.0 L757.0,612.9 L758.5,612.7 L760.0,612.6 L761.5,612.7 L763.0,612.9 L764.5,612.9 L766.0,612.8 L767.5,612.6 L769.0,612.4 L770.5,612.2 L772.0,612.6 L773.5,612.2 L775.0,612.3 L776.0,612.1" fill="none" stroke="#2f4fae" stroke-width="4.5" stroke-linejoin="round" stroke-linecap="round" />
<path d="M106.0,747.4 L107.5,747.1 L109.0,746.4 L110.5,746.8 L112.0,747.1 L113.5,747.3 L115.0,747.0 L116.5,746.9 L118.0,747.6 L119.5,747.6 L121.0,747.5 L122.5,746.5 L124.0,746.6 L125.5,746.9 L127.0,747.2 L128.5,747.2 L130.0,746.7 L131.5,746.6 L133.0,746.5 L134.5,746.8 L136.0,746.2 L137.5,746.2 L139.0,746.0 L140.5,746.4 L142.0,746.2 L143.5,746.4 L145.0,746.4 L146.5,746.5 L148.0,746.4 L149.5,746.1 L151.0,746.6 L152.5,746.1 L154.0,746.3 L155.5,745.5 L157.0,746.1 L158.5,746.5 L160.0,746.7 L161.5,746.9 L163.0,746.4 L164.5,747.1 L166.0,747.4 L167.5,747.9 L169.0,747.0 L170.5,746.4 L172.0,746.4 L173.5,702.7 L175.0,640.7 L176.5,634.1 L178.0,629.7 L179.5,626.4 L181.0,627.2 L182.5,633.5 L184.0,637.0 L185.5,632.1 L187.0,627.5 L188.5,628.6 L190.0,632.4 L191.5,636.6 L193.0,634.9 L194.5,630.4 L196.0,628.3 L197.5,633.1 L199.0,637.7 L200.5,640.1 L202.0,636.0 L203.5,633.1 L205.0,634.2 L206.5,636.3 L208.0,637.0 L209.5,636.2 L211.0,634.9 L212.5,634.9 L214.0,636.7 L215.5,639.4 L217.0,638.9 L218.5,637.8 L220.0,636.5 L221.5,636.8 L223.0,637.5 L224.5,639.0 L226.0,639.8 L227.5,641.5 L229.0,640.7 L230.5,638.9 L232.0,637.2 L233.5,637.4 L235.0,640.1 L236.5,641.1 L238.0,640.9 L239.5,640.0 L241.0,639.1 L242.5,638.5 L244.0,638.2 L245.5,638.3 L247.0,638.2 L248.5,639.0 L250.0,637.5 L251.5,636.0 L253.0,637.6 L254.5,640.1 L256.0,641.0 L257.5,639.8 L259.0,638.1 L260.5,635.9 L262.0,635.9 L263.5,636.4 L265.0,636.8 L266.5,636.7 L268.0,636.9 L269.5,637.2 L271.0,636.9 L272.5,635.9 L274.0,635.3 L275.5,635.1 L277.0,635.7 L278.5,635.8 L280.0,635.6 L281.5,635.7 L283.0,635.7 L284.5,636.2 L286.0,635.5 L287.5,635.6 L289.0,635.6 L290.5,635.8 L292.0,636.1 L293.5,636.0 L295.0,639.1 L296.5,663.2 L298.0,696.6 L299.5,722.0 L301.0,734.0 L302.5,735.9 L304.0,737.0 L305.5,737.5 L307.0,738.1 L308.5,738.6 L310.0,738.5 L311.5,739.3 L313.0,739.4 L314.5,740.2 L316.0,739.9 L317.5,740.8 L319.0,740.6 L320.5,741.5 L322.0,740.9 L323.5,741.3 L325.0,741.5 L326.5,741.8 L328.0,742.1 L329.5,741.7 L331.0,741.4 L332.5,741.6 L334.0,742.0 L335.5,742.4 L337.0,742.5 L338.5,742.3 L340.0,742.4 L341.5,742.3 L343.0,742.4 L344.5,743.4 L346.0,743.1 L347.5,743.5 L349.0,743.2 L350.5,743.2 L352.0,742.6 L353.5,742.5 L355.0,743.0 L356.5,743.6 L358.0,743.8 L359.5,743.9 L361.0,743.5 L362.5,742.5 L364.0,742.7 L365.5,742.8 L367.0,743.7 L368.5,743.8 L370.0,743.7 L371.5,744.1 L373.0,744.4 L374.5,745.1 L376.0,744.3 L377.5,743.9 L379.0,743.6 L380.5,743.8 L382.0,743.7 L383.5,744.0 L385.0,744.2 L386.5,744.7 L388.0,744.5 L389.5,744.8 L391.0,744.8 L392.5,744.3 L394.0,743.8 L395.5,743.8 L397.0,744.8 L398.5,745.0 L400.0,745.0 L401.5,744.6 L403.0,745.0 L404.5,745.0 L406.0,745.1 L407.5,744.8 L409.0,745.1 L410.5,745.2 L412.0,745.1 L413.5,745.2 L415.0,745.2 L416.5,745.9 L418.0,745.9 L419.5,746.5 L421.0,746.8 L422.5,746.6 L424.0,746.3 L425.5,745.7 L427.0,746.4 L428.5,746.6 L430.0,747.4 L431.5,746.9 L433.0,746.3 L434.5,746.4 L436.0,746.5 L437.5,747.2 L439.0,746.8 L440.5,746.9 L442.0,747.0 L443.5,746.6 L445.0,746.7 L446.5,746.4 L448.0,746.7 L449.5,746.9 L451.0,747.3 L452.5,747.4 L454.0,746.4 L455.5,746.2 L457.0,746.4 L458.5,746.9 L460.0,746.5 L461.5,746.2 L463.0,745.8 L464.5,746.2 L466.0,746.7 L467.5,747.3 L469.0,747.1 L470.5,746.9 L472.0,746.8 L473.5,746.8 L475.0,746.7 L476.5,747.2 L478.0,747.4 L479.5,747.7 L481.0,747.0 L482.5,746.9 L484.0,746.2 L485.5,746.3 L487.0,746.6 L488.5,747.7 L490.0,748.0 L491.5,747.9 L493.0,747.3 L494.5,746.8 L496.0,746.6 L497.5,746.8 L499.0,746.7 L500.5,747.0 L502.0,746.6 L503.5,746.3 L505.0,745.8 L506.5,745.6 L508.0,745.7 L509.5,746.3 L511.0,746.7 L512.5,747.2 L514.0,747.2 L515.5,747.6 L517.0,747.4 L518.5,747.4 L520.0,747.2 L521.5,747.3 L523.0,747.1 L524.5,746.6 L526.0,746.4 L527.5,746.2 L529.0,746.8 L530.5,746.9 L532.0,746.9 L533.5,747.0 L535.0,747.5 L536.5,747.7 L538.0,747.8 L539.5,747.3 L541.0,747.0 L542.5,746.8 L544.0,746.8 L545.5,746.7 L547.0,747.1 L548.5,747.2 L550.0,747.0 L551.5,746.7 L553.0,747.3 L554.5,747.6 L556.0,747.8 L557.5,747.1 L559.0,747.0 L560.5,746.5 L562.0,746.5 L563.5,747.2 L565.0,747.1 L566.5,747.6 L568.0,746.8 L569.5,747.0 L571.0,746.8 L572.5,747.3 L574.0,747.4 L575.5,746.7 L577.0,746.6 L578.5,746.3 L580.0,747.5 L581.5,747.3 L583.0,747.6 L584.5,746.6 L586.0,746.5 L587.5,746.1 L589.0,746.7 L590.5,746.8 L592.0,747.3 L593.5,746.8 L595.0,746.8 L596.5,747.0 L598.0,746.9 L599.5,746.5 L601.0,746.3 L602.5,746.2 L604.0,746.6 L605.5,746.8 L607.0,746.9 L608.5,747.2 L610.0,746.8 L611.5,747.4 L613.0,747.5 L614.5,747.6 L616.0,747.1 L617.5,746.5 L619.0,746.7 L620.5,747.1 L622.0,746.9 L623.5,747.1 L625.0,746.4 L626.5,746.6 L628.0,745.9 L629.5,746.8 L631.0,747.1 L632.5,747.6 L634.0,746.9 L635.5,747.1 L637.0,746.5 L638.5,746.7 L640.0,747.0 L641.5,747.5 L643.0,747.5 L644.5,747.1 L646.0,746.9 L647.5,746.9 L649.0,747.0 L650.5,747.3 L652.0,747.4 L653.5,747.0 L655.0,747.1 L656.5,747.0 L658.0,747.5 L659.5,747.6 L661.0,747.5 L662.5,746.4 L664.0,746.4 L665.5,746.7 L667.0,747.1 L668.5,746.4 L670.0,745.9 L671.5,746.4 L673.0,746.6 L674.5,746.8 L676.0,746.6 L677.5,747.3 L679.0,747.4 L680.5,747.3 L682.0,746.8 L683.5,747.3 L685.0,747.6 L686.5,747.7 L688.0,746.9 L689.5,746.4 L691.0,746.5 L692.5,746.7 L694.0,747.2 L695.5,747.1 L697.0,747.4 L698.5,747.4 L700.0,747.4 L701.5,747.1 L703.0,746.8 L704.5,747.3 L706.0,747.2 L707.5,747.2 L709.0,746.8 L710.5,747.1 L712.0,747.0 L713.5,746.4 L715.0,746.6 L716.5,747.1 L718.0,747.8 L719.5,747.7 L721.0,747.7 L722.5,747.0 L724.0,747.0 L725.5,746.6 L727.0,746.9 L728.5,747.1 L730.0,747.6 L731.5,747.2 L733.0,747.4 L734.5,746.9 L736.0,746.9 L737.5,746.5 L739.0,746.3 L740.5,746.5 L742.0,746.7 L743.5,747.0 L745.0,747.2 L746.5,747.0 L748.0,747.1 L749.5,746.5 L751.0,746.6 L752.5,746.4 L754.0,746.7 L755.5,746.6 L757.0,746.9 L758.5,746.6 L760.0,746.2 L761.5,746.0 L763.0,746.6 L764.5,747.1 L766.0,747.5 L767.5,747.7 L769.0,747.7 L770.5,747.5 L772.0,746.8 L773.5,746.4 L775.0,746.3 L776.0,746.6" fill="none" stroke="#939594" stroke-width="4.2" stroke-linejoin="round" stroke-linecap="round" />
<path d="M106.0,746.9 L107.5,746.9 L109.0,746.8 L110.5,746.9 L112.0,746.9 L113.5,747.0 L115.0,747.0 L116.5,746.8 L118.0,746.5 L119.5,746.6 L121.0,746.8 L122.5,746.9 L124.0,746.8 L125.5,747.1 L127.0,747.0 L128.5,747.1 L130.0,746.7 L131.5,746.6 L133.0,746.6 L134.5,747.0 L136.0,747.4 L137.5,747.5 L139.0,747.2 L140.5,747.1 L142.0,747.1 L143.5,747.0 L145.0,746.9 L146.5,746.7 L148.0,746.9 L149.5,747.1 L151.0,747.2 L152.5,746.6 L154.0,746.8 L155.5,747.1 L157.0,747.8 L158.5,747.5 L160.0,746.8 L161.5,746.6 L163.0,746.5 L164.5,746.8 L166.0,746.6 L167.5,747.0 L169.0,747.2 L170.5,746.9 L172.0,746.7 L173.5,700.5 L175.0,641.4 L176.5,655.4 L178.0,670.4 L179.5,673.8 L181.0,675.3 L182.5,679.0 L184.0,685.0 L185.5,691.5 L187.0,696.1 L188.5,699.7 L190.0,703.0 L191.5,706.2 L193.0,709.2 L194.5,712.1 L196.0,714.8 L197.5,716.9 L199.0,718.9 L200.5,720.4 L202.0,721.6 L203.5,722.6 L205.0,723.3 L206.5,724.4 L208.0,725.6 L209.5,726.4 L211.0,727.6 L212.5,728.4 L214.0,729.1 L215.5,729.1 L217.0,729.1 L218.5,729.2 L220.0,729.1 L221.5,729.0 L223.0,729.0 L224.5,729.3 L226.0,729.5 L227.5,729.6 L229.0,729.4 L230.5,729.1 L232.0,728.4 L233.5,728.4 L235.0,727.8 L236.5,727.7 L238.0,727.1 L239.5,726.9 L241.0,726.1 L242.5,725.1 L244.0,724.7 L245.5,724.2 L247.0,724.4 L248.5,723.6 L250.0,723.3 L251.5,723.0 L253.0,722.5 L254.5,722.2 L256.0,721.0 L257.5,720.7 L259.0,719.9 L260.5,719.8 L262.0,719.2 L263.5,718.9 L265.0,718.9 L266.5,718.1 L268.0,717.7 L269.5,716.8 L271.0,717.1 L272.5,716.6 L274.0,716.5 L275.5,715.9 L277.0,715.8 L278.5,715.5 L280.0,715.1 L281.5,714.6 L283.0,713.7 L284.5,713.5 L286.0,713.3 L287.5,713.1 L289.0,713.0 L290.5,712.2 L292.0,711.8 L293.5,711.5 L295.0,713.7 L296.5,726.0 L298.0,743.5 L299.5,745.1 L301.0,745.4 L302.5,745.5 L304.0,745.4 L305.5,745.0 L307.0,745.6 L308.5,745.4 L310.0,745.5 L311.5,745.1 L313.0,745.2 L314.5,744.5 L316.0,743.5 L317.5,742.9 L319.0,742.3 L320.5,741.0 L322.0,739.7 L323.5,738.5 L325.0,738.0 L326.5,737.5 L328.0,736.7 L329.5,735.5 L331.0,734.7 L332.5,734.6 L334.0,734.5 L335.5,734.0 L337.0,733.7 L338.5,732.9 L340.0,732.8 L341.5,731.9 L343.0,731.8 L344.5,731.4 L346.0,731.6 L347.5,731.2 L349.0,730.8 L350.5,730.1 L352.0,730.3 L353.5,730.3 L355.0,730.7 L356.5,730.5 L358.0,730.6 L359.5,730.9 L361.0,731.3 L362.5,731.7 L364.0,731.8 L365.5,732.0 L367.0,731.8 L368.5,732.2 L370.0,732.6 L371.5,733.3 L373.0,733.0 L374.5,732.8 L376.0,732.5 L377.5,733.1 L379.0,734.0 L380.5,734.9 L382.0,735.4 L383.5,735.6 L385.0,736.0 L386.5,736.4 L388.0,736.8 L389.5,737.1 L391.0,737.1 L392.5,737.3 L394.0,737.9 L395.5,738.6 L397.0,739.0 L398.5,738.9 L400.0,739.1 L401.5,739.7 L403.0,740.0 L404.5,740.1 L406.0,739.5 L407.5,739.6 L409.0,739.6 L410.5,740.1 L412.0,740.6 L413.5,741.3 L415.0,741.5 L416.5,741.6 L418.0,741.7 L419.5,742.1 L421.0,742.3 L422.5,742.0 L424.0,742.0 L425.5,741.7 L427.0,742.0 L428.5,742.5 L430.0,742.7 L431.5,742.8 L433.0,742.5 L434.5,743.0 L436.0,743.3 L437.5,743.8 L439.0,743.7 L440.5,743.6 L442.0,743.4 L443.5,743.7 L445.0,743.8 L446.5,744.1 L448.0,744.5 L449.5,744.7 L451.0,744.7 L452.5,744.7 L454.0,744.8 L455.5,744.7 L457.0,744.2 L458.5,744.5 L460.0,744.9 L461.5,745.1 L463.0,745.1 L464.5,745.4 L466.0,745.6 L467.5,745.4 L469.0,745.2 L470.5,745.1 L472.0,745.6 L473.5,745.6 L475.0,745.5 L476.5,745.4 L478.0,745.1 L479.5,745.3 L481.0,745.3 L482.5,745.8 L484.0,745.7 L485.5,745.8 L487.0,745.5 L488.5,745.6 L490.0,745.9 L491.5,746.0 L493.0,746.4 L494.5,746.0 L496.0,746.2 L497.5,745.8 L499.0,746.0 L500.5,745.9 L502.0,746.4 L503.5,746.6 L505.0,746.7 L506.5,746.7 L508.0,746.8 L509.5,746.9 L511.0,746.9 L512.5,746.9 L514.0,746.7 L515.5,746.7 L517.0,746.6 L518.5,746.7 L520.0,746.9 L521.5,747.2 L523.0,747.0 L524.5,746.5 L526.0,746.4 L527.5,746.4 L529.0,746.9 L530.5,746.9 L532.0,746.8 L533.5,746.8 L535.0,746.8 L536.5,746.8 L538.0,747.0 L539.5,747.4 L541.0,747.6 L542.5,747.3 L544.0,746.8 L545.5,746.8 L547.0,746.7 L548.5,747.0 L550.0,746.8 L551.5,746.7 L553.0,746.7 L554.5,746.8 L556.0,747.1 L557.5,747.3 L559.0,746.9 L560.5,746.4 L562.0,746.0 L563.5,746.2 L565.0,746.5 L566.5,746.9 L568.0,746.9 L569.5,746.9 L571.0,746.7 L572.5,746.5 L574.0,746.1 L575.5,746.1 L577.0,746.7 L578.5,746.7 L580.0,747.2 L581.5,747.2 L583.0,747.4 L584.5,747.1 L586.0,746.7 L587.5,746.8 L589.0,746.9 L590.5,747.1 L592.0,747.3 L593.5,747.4 L595.0,747.5 L596.5,747.3 L598.0,747.1 L599.5,747.1 L601.0,746.8 L602.5,746.9 L604.0,746.9 L605.5,746.9 L607.0,747.3 L608.5,747.0 L610.0,747.0 L611.5,746.7 L613.0,746.5 L614.5,746.5 L616.0,746.1 L617.5,746.3 L619.0,746.5 L620.5,746.8 L622.0,747.3 L623.5,747.5 L625.0,747.7 L626.5,747.6 L628.0,747.3 L629.5,747.3 L631.0,747.1 L632.5,747.0 L634.0,747.1 L635.5,747.4 L637.0,747.6 L638.5,747.4 L640.0,747.4 L641.5,747.1 L643.0,746.9 L644.5,746.5 L646.0,746.8 L647.5,746.7 L649.0,747.2 L650.5,747.3 L652.0,747.3 L653.5,747.0 L655.0,746.7 L656.5,746.8 L658.0,746.9 L659.5,747.3 L661.0,746.9 L662.5,746.7 L664.0,746.7 L665.5,747.2 L667.0,747.5 L668.5,747.1 L670.0,747.2 L671.5,746.8 L673.0,747.1 L674.5,747.1 L676.0,747.4 L677.5,747.2 L679.0,747.2 L680.5,746.8 L682.0,746.6 L683.5,746.7 L685.0,746.9 L686.5,746.9 L688.0,746.6 L689.5,746.6 L691.0,747.3 L692.5,747.7 L694.0,747.8 L695.5,747.1 L697.0,746.9 L698.5,746.8 L700.0,747.3 L701.5,747.4 L703.0,747.3 L704.5,747.5 L706.0,747.8 L707.5,747.8 L709.0,747.2 L710.5,747.3 L712.0,747.2 L713.5,747.7 L715.0,747.7 L716.5,747.6 L718.0,747.4 L719.5,746.9 L721.0,747.2 L722.5,747.2 L724.0,747.7 L725.5,747.7 L727.0,747.7 L728.5,747.5 L730.0,747.3 L731.5,747.3 L733.0,747.5 L734.5,747.4 L736.0,747.3 L737.5,746.9 L739.0,746.8 L740.5,746.5 L742.0,746.7 L743.5,746.8 L745.0,747.1 L746.5,746.8 L748.0,746.8 L749.5,746.7 L751.0,746.8 L752.5,747.5 L754.0,747.8 L755.5,748.0 L757.0,747.2 L758.5,747.0 L760.0,746.6 L761.5,747.1 L763.0,747.0 L764.5,747.3 L766.0,747.1 L767.5,747.0 L769.0,746.7 L770.5,746.8 L772.0,746.7 L773.5,746.8 L775.0,746.6 L776.0,746.9" fill="none" stroke="#2f4fae" stroke-width="4.5" stroke-linejoin="round" stroke-linecap="round" />
<text transform="translate(156.68,791.62) scale(1.0035,1)" font-size="28.03" font-family="'Liberation Sans', Arial, Helvetica, sans-serif" fill="#1a1a1a">0</text>
<text transform="translate(268.70,791.62) scale(0.9803,1)" font-size="28.03" font-family="'Liberation Sans', Arial, Helvetica, sans-serif" fill="#1a1a1a">10</text>
<text transform="translate(389.48,791.62) scale(1.0109,1)" font-size="28.03" font-family="'Liberation Sans', Arial, Helvetica, sans-serif" fill="#1a1a1a">20</text>
<text transform="translate(511.78,791.62) scale(0.9976,1)" font-size="28.03" font-family="'Liberation Sans', Arial, Helvetica, sans-serif" fill="#1a1a1a">30</text>
<text transform="translate(633.24,791.62) scale(0.9990,1)" font-size="28.03" font-family="'Liberation Sans', Arial, Helvetica, sans-serif" fill="#1a1a1a">40</text>
<text transform="translate(755.39,791.62) scale(0.9907,1)" font-size="28.03" font-family="'Liberation Sans', Arial, Helvetica, sans-serif" fill="#1a1a1a">50</text>
<rect x="578.9" y="43" width="183.8" height="67.8" fill="#fff" stroke="#1a1a1a" stroke-width="2"/>
<line x1="590.2" y1="63.2" x2="642.5" y2="63.2" stroke="#2f4fae" stroke-width="4.8" stroke-linecap="round"/>
<line x1="590.2" y1="90.4" x2="642.5" y2="90.4" stroke="#939594" stroke-width="4.8" stroke-linecap="round"/>
<text transform="translate(659.76,72.88) scale(1.0058,1)" font-size="28.68" font-family="'Liberation Sans', Arial, Helvetica, sans-serif" fill="#1a1a1a">Output</text>
<text transform="translate(659.07,99.65) scale(1.0307,1)" font-size="28.33" font-family="'Liberation Sans', Arial, Helvetica, sans-serif" fill="#1a1a1a">Input</text>
<text transform="translate(328.48,61.82) scale(1.0107,1)" font-size="37.97" font-family="'Liberation Sans', Arial, Helvetica, sans-serif" fill="#d42a1f">Control ON</text>
<text transform="translate(572.33,189.88) scale(1.0501,1)" font-size="31.91" font-family="'Liberation Serif', 'DejaVu Serif', serif" font-style="italic" fill="#1a1a1a">τ</text>
<text transform="translate(584.70,201.31) scale(1.0171,1)" font-size="19.19" font-family="'Liberation Sans', Arial, Helvetica, sans-serif" fill="#1a1a1a">width,c</text>
<text transform="translate(654.72,190.86) scale(0.9818,1)" font-size="34.23" font-family="'Liberation Sans', Arial, Helvetica, sans-serif" fill="#1a1a1a">= 20 ns</text>
<text transform="translate(572.33,322.28) scale(1.0501,1)" font-size="31.91" font-family="'Liberation Serif', 'DejaVu Serif', serif" font-style="italic" fill="#1a1a1a">τ</text>
<text transform="translate(584.70,333.71) scale(1.0171,1)" font-size="19.19" font-family="'Liberation Sans', Arial, Helvetica, sans-serif" fill="#1a1a1a">width,c</text>
<text transform="translate(654.62,323.30) scale(0.9818,1)" font-size="34.23" font-family="'Liberation Sans', Arial, Helvetica, sans-serif" fill="#1a1a1a">= 15 ns</text>
<text transform="translate(572.33,455.98) scale(1.0501,1)" font-size="31.91" font-family="'Liberation Serif', 'DejaVu Serif', serif" font-style="italic" fill="#1a1a1a">τ</text>
<text transform="translate(584.70,467.41) scale(1.0171,1)" font-size="19.19" font-family="'Liberation Sans', Arial, Helvetica, sans-serif" fill="#1a1a1a">width,c</text>
<text transform="translate(654.62,457.00) scale(0.9818,1)" font-size="34.23" font-family="'Liberation Sans', Arial, Helvetica, sans-serif" fill="#1a1a1a">= 10 ns</text>
<text transform="translate(572.33,592.98) scale(1.0501,1)" font-size="31.91" font-family="'Liberation Serif', 'DejaVu Serif', serif" font-style="italic" fill="#1a1a1a">τ</text>
<text transform="translate(584.70,604.41) scale(1.0171,1)" font-size="19.19" font-family="'Liberation Sans', Arial, Helvetica, sans-serif" fill="#1a1a1a">width,c</text>
<text transform="translate(654.62,594.00) scale(0.9818,1)" font-size="34.23" font-family="'Liberation Sans', Arial, Helvetica, sans-serif" fill="#1a1a1a">= 5 ns</text>
<text transform="translate(571.91,733.98) scale(1.0369,1)" font-size="32.43" font-family="'Liberation Sans', Arial, Helvetica, sans-serif" fill="#1a1a1a">No control</text>
<text transform="translate(318.04,846.69) scale(1.0225,1)" font-size="56.70" font-family="'Liberation Sans', Arial, Helvetica, sans-serif" fill="#1a1a1a">Time (ns)</text>
<text transform="translate(76.72,645.39) rotate(-90) scale(0.9974,1)" font-size="57.98" font-family="'Liberation Sans', Arial, Helvetica, sans-serif" fill="#1a1a1a">Signal power (a. u.)</text>
<text transform="translate(-0.01,61.52) scale(1.0242,1)" font-size="71.81" font-family="'Liberation Sans', Arial, Helvetica, sans-serif" fill="#1a1a1a">(a)</text>
<text transform="translate(799.57,61.63) scale(1.0232,1)" font-size="72.23" font-family="'Liberation Sans', Arial, Helvetica, sans-serif" fill="#1a1a1a">(b)</text>
<text transform="translate(-0.34,890.93) scale(1.0374,1)" font-size="71.28" font-family="'Liberation Sans', Arial, Helvetica, sans-serif" fill="#1a1a1a">(c)</text>
<line x1="792.5" y1="200.5" x2="877" y2="167.0" stroke="#30239a" stroke-width="5.2" stroke-dasharray="5.3 4.2"/>
<line x1="792.5" y1="216.0" x2="877" y2="249.5" stroke="#30239a" stroke-width="5.2" stroke-dasharray="5.3 4.2"/>
<line x1="792.5" y1="335.0" x2="877" y2="301.6" stroke="#30239a" stroke-width="5.2" stroke-dasharray="5.3 4.2"/>
<line x1="792.5" y1="350.6" x2="877" y2="384.1" stroke="#30239a" stroke-width="5.2" stroke-dasharray="5.3 4.2"/>
<line x1="792.5" y1="469.5" x2="877" y2="436.2" stroke="#30239a" stroke-width="5.2" stroke-dasharray="5.3 4.2"/>
<line x1="792.5" y1="485.2" x2="877" y2="518.7" stroke="#30239a" stroke-width="5.2" stroke-dasharray="5.3 4.2"/>
<line x1="792.5" y1="604.0" x2="877" y2="570.8" stroke="#30239a" stroke-width="5.2" stroke-dasharray="5.3 4.2"/>
<line x1="792.5" y1="619.8" x2="877" y2="653.3" stroke="#30239a" stroke-width="5.2" stroke-dasharray="5.3 4.2"/>
<line x1="792.5" y1="738.5" x2="877" y2="705.4" stroke="#30239a" stroke-width="5.2" stroke-dasharray="5.3 4.2"/>
<line x1="792.5" y1="754.4" x2="877" y2="787.9" stroke="#30239a" stroke-width="5.2" stroke-dasharray="5.3 4.2"/>
<polygon points="894.6,77.0 1252.9,77.0 1252.9,217.5 1162.4,217.5 1162.4,347.5 1074.2,347.5 1074.2,483.3 985.1,483.3 985.1,620.0 894.6,620.0" fill="#fedfd1"/>
<rect x="894.6" y="77.0" width="670.4" height="680.9" fill="none" stroke="#1a1a1a" stroke-width="3.8"/>
<line x1="1035.8" y1="77.0" x2="1035.8" y2="85.5" stroke="#1a1a1a" stroke-width="3.4" />
<line x1="1035.8" y1="757.9" x2="1035.8" y2="749.4" stroke="#1a1a1a" stroke-width="3.4" />
<line x1="1212.3" y1="77.0" x2="1212.3" y2="85.5" stroke="#1a1a1a" stroke-width="3.4" />
<line x1="1212.3" y1="757.9" x2="1212.3" y2="749.4" stroke="#1a1a1a" stroke-width="3.4" />
<line x1="1388.8" y1="77.0" x2="1388.8" y2="85.5" stroke="#1a1a1a" stroke-width="3.4" />
<line x1="1388.8" y1="757.9" x2="1388.8" y2="749.4" stroke="#1a1a1a" stroke-width="3.4" />
<line x1="894.6" y1="87.6" x2="903.1" y2="87.6" stroke="#1a1a1a" stroke-width="3.4" />
<line x1="1565.0" y1="87.6" x2="1556.5" y2="87.6" stroke="#1a1a1a" stroke-width="3.4" />
<line x1="894.6" y1="197.6" x2="903.1" y2="197.6" stroke="#1a1a1a" stroke-width="3.4" />
<line x1="1565.0" y1="197.6" x2="1556.5" y2="197.6" stroke="#1a1a1a" stroke-width="3.4" />
<line x1="894.6" y1="307.5" x2="903.1" y2="307.5" stroke="#1a1a1a" stroke-width="3.4" />
<line x1="1565.0" y1="307.5" x2="1556.5" y2="307.5" stroke="#1a1a1a" stroke-width="3.4" />
<line x1="894.6" y1="417.5" x2="903.1" y2="417.5" stroke="#1a1a1a" stroke-width="3.4" />
<line x1="1565.0" y1="417.5" x2="1556.5" y2="417.5" stroke="#1a1a1a" stroke-width="3.4" />
<line x1="894.6" y1="527.4" x2="903.1" y2="527.4" stroke="#1a1a1a" stroke-width="3.4" />
<line x1="1565.0" y1="527.4" x2="1556.5" y2="527.4" stroke="#1a1a1a" stroke-width="3.4" />
<line x1="894.6" y1="637.4" x2="903.1" y2="637.4" stroke="#1a1a1a" stroke-width="3.4" />
<line x1="1565.0" y1="637.4" x2="1556.5" y2="637.4" stroke="#1a1a1a" stroke-width="3.4" />
<line x1="894.6" y1="747.3" x2="903.1" y2="747.3" stroke="#1a1a1a" stroke-width="3.4" />
<line x1="1565.0" y1="747.3" x2="1556.5" y2="747.3" stroke="#1a1a1a" stroke-width="3.4" />
<path d="M894.6,194.7 L896.8,200.3 L899.0,203.3 L901.2,202.2 L903.4,201.8 L905.6,201.2 L907.8,202.1 L910.0,198.8 L912.2,201.6 L914.4,200.1 L916.6,199.9 L918.8,201.5 L921.0,201.3 L923.2,202.6 L925.4,203.5 L927.6,199.6 L929.8,202.6 L932.0,205.3 L934.2,204.2 L936.4,205.2 L938.6,204.0 L940.8,202.6 L943.0,203.5 L945.2,206.2 L947.4,207.0 L949.6,205.5 L951.8,206.5 L954.0,207.6 L956.2,205.6 L958.4,207.5 L960.6,210.2 L962.8,211.2 L965.0,208.7 L967.2,211.3 L969.4,208.7 L971.6,208.6 L973.8,207.2 L976.0,211.2 L978.2,209.9 L980.4,213.3 L982.6,211.1 L984.8,211.2 L987.0,209.0 L989.2,213.1 L991.4,211.0 L993.6,211.5 L995.8,209.2 L998.0,213.1 L1000.2,213.3 L1002.4,211.5 L1004.6,212.4 L1006.8,212.9 L1009.0,213.7 L1011.2,212.8 L1013.4,214.9 L1015.6,212.7 L1017.8,212.3 L1020.0,212.6 L1022.2,210.3 L1024.4,212.4 L1026.6,214.7 L1028.8,213.9 L1031.0,212.7 L1033.2,214.2 L1035.4,211.4 L1037.6,213.5 L1039.8,214.5 L1042.0,214.8 L1044.2,213.0 L1046.4,215.0 L1048.6,216.2 L1050.8,213.4 L1053.0,214.8 L1055.2,212.0 L1057.4,211.5 L1059.6,214.5 L1061.8,213.8 L1064.0,214.0 L1066.2,213.0 L1068.4,213.3 L1070.6,214.6 L1072.8,215.6 L1075.0,213.2 L1077.2,211.4 L1079.4,214.9 L1081.6,214.0 L1083.8,214.1 L1086.0,213.4 L1088.2,216.0 L1090.4,213.2 L1092.6,213.7 L1094.8,210.8 L1097.0,212.3 L1099.2,212.1 L1101.4,212.9 L1103.6,213.3 L1105.8,212.0 L1108.0,214.9 L1110.2,211.6 L1112.4,212.3 L1114.6,213.1 L1116.8,211.4 L1119.0,213.6 L1121.2,213.8 L1123.4,212.8 L1125.6,215.5 L1127.8,213.4 L1130.0,213.8 L1132.2,212.4 L1134.4,211.7 L1136.6,213.1 L1138.8,213.6 L1141.0,213.6 L1143.2,215.2 L1145.4,211.5 L1147.6,213.1 L1149.8,212.4 L1152.0,216.3 L1154.2,214.1 L1156.4,214.2 L1158.6,213.6 L1160.8,216.0 L1163.0,214.5 L1165.2,215.3 L1167.4,212.6 L1169.6,216.5 L1171.8,215.7 L1174.0,215.9 L1176.2,216.8 L1178.4,215.1 L1180.6,215.2 L1182.8,216.3 L1185.0,216.0 L1187.2,215.2 L1189.4,215.6 L1191.6,215.0 L1193.8,216.5 L1196.0,216.8 L1198.2,215.7 L1200.4,218.0 L1202.6,213.9 L1204.8,215.5 L1207.0,217.9 L1209.2,215.3 L1211.4,213.9 L1213.6,217.6 L1215.8,216.6 L1218.0,214.5 L1220.2,216.9 L1222.4,214.8 L1224.6,214.4 L1226.8,215.8 L1229.0,215.5 L1231.2,214.8 L1233.4,215.7 L1235.6,214.9 L1237.8,216.2 L1240.0,216.1 L1242.2,217.1 L1244.4,215.6 L1246.6,214.6 L1248.8,214.6 L1251.0,215.9 L1253.2,218.1 L1255.4,217.3 L1257.6,215.5 L1259.8,217.4 L1262.0,214.9 L1264.2,217.5 L1266.4,215.9 L1268.6,217.3 L1270.8,217.1 L1273.0,216.0 L1275.2,216.8 L1277.4,215.1 L1279.6,216.3 L1281.8,217.7 L1284.0,221.4 L1286.2,217.3 L1288.4,216.6 L1290.6,215.3 L1292.8,217.8 L1295.0,214.5 L1297.2,215.6 L1299.4,217.0 L1301.6,215.1 L1303.8,218.4 L1306.0,217.9 L1308.2,215.9 L1310.4,215.9 L1312.6,215.0 L1314.8,215.0 L1317.0,217.2 L1319.2,217.4 L1321.4,217.1 L1323.6,217.0 L1325.8,216.0 L1328.0,217.2 L1330.2,215.0 L1332.4,216.8 L1334.6,218.5 L1336.8,218.4 L1339.0,216.2 L1341.2,216.4 L1343.4,218.5 L1345.6,219.0 L1347.8,215.0 L1350.0,216.3 L1352.2,217.1 L1354.4,218.3 L1356.6,215.9 L1358.8,217.7 L1361.0,216.5 L1363.2,219.8 L1365.4,217.4 L1367.6,216.8 L1369.8,216.5 L1372.0,218.2 L1374.2,217.8 L1376.4,215.7 L1378.6,217.2 L1380.8,215.4 L1383.0,216.1 L1385.2,215.5 L1387.4,215.4 L1389.6,216.2 L1391.8,215.9 L1394.0,217.7 L1396.2,218.0 L1398.4,216.8 L1400.6,215.7 L1402.8,218.1 L1405.0,214.7 L1407.2,214.8 L1409.4,218.0 L1411.6,217.9 L1413.8,218.3 L1416.0,216.9 L1418.2,215.6 L1420.4,216.5 L1422.6,217.9 L1424.8,216.3 L1427.0,216.3 L1429.2,215.5 L1431.4,215.8 L1433.6,218.2 L1435.8,217.8 L1438.0,215.8 L1440.2,215.9 L1442.4,216.6 L1444.6,217.9 L1446.8,215.8 L1449.0,217.1 L1451.2,214.7 L1453.4,215.8 L1455.6,217.8 L1457.8,218.4 L1460.0,215.9 L1462.2,216.4 L1464.4,218.3 L1466.6,216.8 L1468.8,216.7 L1471.0,217.9 L1473.2,217.6 L1475.4,218.7 L1477.6,218.3 L1479.8,216.7 L1482.0,217.2 L1484.2,217.3 L1486.4,215.7 L1488.6,216.2 L1490.8,218.5 L1493.0,215.5 L1495.2,218.6 L1497.4,217.7 L1499.6,217.2 L1501.8,218.0 L1504.0,218.0 L1506.2,218.9 L1508.4,216.9 L1510.6,217.1 L1512.8,217.1 L1515.0,219.7 L1517.2,218.6 L1519.4,216.3 L1521.6,217.0 L1523.8,216.6 L1526.0,217.4 L1528.2,217.7 L1530.4,220.2 L1532.6,215.2 L1534.8,218.7 L1537.0,218.0 L1539.2,216.6 L1541.4,217.3 L1543.6,216.8 L1545.8,217.5 L1548.0,218.7 L1550.2,215.6 L1552.4,219.0 L1554.6,217.0 L1556.8,219.3 L1559.0,217.9 L1561.2,218.9 L1563.4,218.1 L1565.0,218.8" fill="none" stroke="#939594" stroke-width="4.2" stroke-linejoin="round" stroke-linecap="round" />
<path d="M894.6,176.7 L896.8,181.9 L899.0,186.4 L901.2,185.7 L903.4,185.9 L905.6,177.0 L907.8,174.2 L910.0,172.0 L912.2,168.5 L914.4,170.6 L916.6,174.9 L918.8,175.3 L921.0,173.9 L923.2,178.7 L925.4,180.2 L927.6,181.6 L929.8,183.0 L932.0,184.9 L934.2,185.4 L936.4,187.8 L938.6,191.5 L940.8,192.7 L943.0,196.7 L945.2,195.0 L947.4,193.0 L949.6,196.2 L951.8,197.4 L954.0,197.9 L956.2,197.8 L958.4,196.9 L960.6,200.2 L962.8,197.7 L965.0,199.7 L967.2,198.5 L969.4,197.3 L971.6,200.5 L973.8,195.1 L976.0,197.0 L978.2,198.5 L980.4,197.3 L982.6,199.0 L984.8,199.1 L987.0,200.3 L989.2,205.5 L991.4,203.8 L993.6,204.6 L995.8,204.0 L998.0,205.1 L1000.2,207.4 L1002.4,207.8 L1004.6,207.5 L1006.8,206.9 L1009.0,208.9 L1011.2,205.9 L1013.4,207.7 L1015.6,207.8 L1017.8,207.1 L1020.0,208.4 L1022.2,207.3 L1024.4,207.1 L1026.6,210.5 L1028.8,209.1 L1031.0,209.7 L1033.2,208.2 L1035.4,209.4 L1037.6,209.2 L1039.8,209.7 L1042.0,211.2 L1044.2,207.7 L1046.4,208.3 L1048.6,207.8 L1050.8,203.3 L1053.0,205.9 L1055.2,207.7 L1057.4,208.4 L1059.6,206.8 L1061.8,208.9 L1064.0,209.0 L1066.2,206.8 L1068.4,209.1 L1070.6,209.5 L1072.8,207.8 L1075.0,205.9 L1077.2,209.1 L1079.4,206.9 L1081.6,206.6 L1083.8,207.2 L1086.0,206.3 L1088.2,208.4 L1090.4,208.0 L1092.6,208.5 L1094.8,207.7 L1097.0,205.9 L1099.2,206.7 L1101.4,208.0 L1103.6,206.3 L1105.8,210.6 L1108.0,206.5 L1110.2,206.0 L1112.4,208.2 L1114.6,207.6 L1116.8,206.6 L1119.0,206.3 L1121.2,207.1 L1123.4,207.6 L1125.6,207.4 L1127.8,206.0 L1130.0,206.9 L1132.2,207.4 L1134.4,207.2 L1136.6,202.2 L1138.8,205.0 L1141.0,205.1 L1143.2,205.7 L1145.4,206.2 L1147.6,207.1 L1149.8,206.6 L1152.0,205.6 L1154.2,205.7 L1156.4,207.9 L1158.6,204.7 L1160.8,205.8 L1163.0,207.4 L1165.2,205.7 L1167.4,202.5 L1169.6,205.5 L1171.8,204.4 L1174.0,204.6 L1176.2,206.0 L1178.4,205.0 L1180.6,203.9 L1182.8,205.2 L1185.0,204.3 L1187.2,203.6 L1189.4,203.6 L1191.6,203.2 L1193.8,202.2 L1196.0,201.8 L1198.2,202.3 L1200.4,201.0 L1202.6,200.6 L1204.8,204.0 L1207.0,202.2 L1209.2,202.8 L1211.4,202.9 L1213.6,203.4 L1215.8,203.7 L1218.0,204.0 L1220.2,203.1 L1222.4,205.5 L1224.6,203.5 L1226.8,205.7 L1229.0,201.8 L1231.2,202.8 L1233.4,205.3 L1235.6,203.7 L1237.8,202.9 L1240.0,204.1 L1242.2,202.1 L1244.4,203.4 L1246.6,200.4 L1248.8,202.8 L1251.0,203.0 L1253.2,205.2 L1255.4,206.4 L1257.6,205.0 L1259.8,209.0 L1262.0,206.7 L1264.2,205.1 L1266.4,204.4 L1268.6,208.1 L1270.8,204.1 L1273.0,201.8 L1275.2,200.8 L1277.4,199.6 L1279.6,202.1 L1281.8,199.6 L1284.0,201.5 L1286.2,198.5 L1288.4,195.3 L1290.6,199.1 L1292.8,197.2 L1295.0,197.0 L1297.2,199.1 L1299.4,196.4 L1301.6,198.0 L1303.8,196.2 L1306.0,195.0 L1308.2,196.5 L1310.4,194.9 L1312.6,197.2 L1314.8,196.9 L1317.0,196.0 L1319.2,197.1 L1321.4,197.6 L1323.6,197.1 L1325.8,199.2 L1328.0,198.4 L1330.2,200.3 L1332.4,199.1 L1334.6,201.2 L1336.8,202.2 L1339.0,201.1 L1341.2,201.7 L1343.4,201.4 L1345.6,202.9 L1347.8,200.7 L1350.0,201.9 L1352.2,203.0 L1354.4,201.2 L1356.6,198.3 L1358.8,200.4 L1361.0,201.4 L1363.2,199.6 L1365.4,201.8 L1367.6,201.9 L1369.8,202.6 L1372.0,202.8 L1374.2,203.6 L1376.4,205.0 L1378.6,206.3 L1380.8,207.4 L1383.0,207.6 L1385.2,207.0 L1387.4,207.8 L1389.6,208.5 L1391.8,206.2 L1394.0,207.5 L1396.2,207.7 L1398.4,208.7 L1400.6,208.8 L1402.8,209.0 L1405.0,208.4 L1407.2,210.5 L1409.4,210.1 L1411.6,207.8 L1413.8,210.0 L1416.0,208.7 L1418.2,212.4 L1420.4,209.7 L1422.6,209.9 L1424.8,210.6 L1427.0,210.3 L1429.2,210.5 L1431.4,212.6 L1433.6,211.0 L1435.8,211.8 L1438.0,212.3 L1440.2,209.6 L1442.4,213.1 L1444.6,211.9 L1446.8,212.4 L1449.0,210.1 L1451.2,212.3 L1453.4,211.9 L1455.6,210.8 L1457.8,214.5 L1460.0,212.4 L1462.2,211.5 L1464.4,212.1 L1466.6,213.2 L1468.8,213.6 L1471.0,213.0 L1473.2,213.9 L1475.4,214.3 L1477.6,210.9 L1479.8,212.0 L1482.0,211.6 L1484.2,213.0 L1486.4,214.9 L1488.6,214.0 L1490.8,211.9 L1493.0,213.0 L1495.2,214.9 L1497.4,213.0 L1499.6,213.8 L1501.8,214.5 L1504.0,212.0 L1506.2,215.5 L1508.4,215.2 L1510.6,215.7 L1512.8,213.8 L1515.0,214.3 L1517.2,214.6 L1519.4,215.8 L1521.6,215.7 L1523.8,215.8 L1526.0,217.9 L1528.2,216.7 L1530.4,213.1 L1532.6,212.1 L1534.8,214.0 L1537.0,210.4 L1539.2,211.9 L1541.4,212.3 L1543.6,211.7 L1545.8,214.6 L1548.0,215.7 L1550.2,214.5 L1552.4,214.4 L1554.6,215.1 L1556.8,216.7 L1559.0,215.0 L1561.2,215.4 L1563.4,215.0 L1565.0,213.9" fill="none" stroke="#2f4fae" stroke-width="4.5" stroke-linejoin="round" stroke-linecap="round" />
<path d="M894.6,312.9 L896.8,313.7 L899.0,319.9 L901.2,322.9 L903.4,319.8 L905.6,320.6 L907.8,319.4 L910.0,315.3 L912.2,315.9 L914.4,316.5 L916.6,322.6 L918.8,324.5 L921.0,324.6 L923.2,325.6 L925.4,324.2 L927.6,324.7 L929.8,323.5 L932.0,320.9 L934.2,322.5 L936.4,322.9 L938.6,320.9 L940.8,324.8 L943.0,323.9 L945.2,324.9 L947.4,324.2 L949.6,326.1 L951.8,327.1 L954.0,326.9 L956.2,327.8 L958.4,325.5 L960.6,329.9 L962.8,327.2 L965.0,326.1 L967.2,327.7 L969.4,328.0 L971.6,329.8 L973.8,328.3 L976.0,330.0 L978.2,328.8 L980.4,332.9 L982.6,331.5 L984.8,333.9 L987.0,331.1 L989.2,334.0 L991.4,333.0 L993.6,335.8 L995.8,336.8 L998.0,334.9 L1000.2,336.2 L1002.4,336.8 L1004.6,337.1 L1006.8,338.7 L1009.0,339.1 L1011.2,339.2 L1013.4,341.6 L1015.6,342.7 L1017.8,341.0 L1020.0,342.3 L1022.2,343.2 L1024.4,343.1 L1026.6,342.7 L1028.8,344.6 L1031.0,344.8 L1033.2,344.7 L1035.4,343.8 L1037.6,346.5 L1039.8,346.3 L1042.0,343.9 L1044.2,344.3 L1046.4,345.9 L1048.6,343.6 L1050.8,345.2 L1053.0,344.8 L1055.2,344.0 L1057.4,344.6 L1059.6,343.1 L1061.8,344.3 L1064.0,342.7 L1066.2,347.8 L1068.4,347.0 L1070.6,346.7 L1072.8,345.6 L1075.0,346.5 L1077.2,346.9 L1079.4,346.6 L1081.6,346.5 L1083.8,344.4 L1086.0,346.0 L1088.2,344.9 L1090.4,344.2 L1092.6,344.3 L1094.8,346.2 L1097.0,347.0 L1099.2,344.2 L1101.4,348.0 L1103.6,347.7 L1105.8,345.5 L1108.0,345.5 L1110.2,346.0 L1112.4,347.3 L1114.6,345.7 L1116.8,344.9 L1119.0,346.7 L1121.2,343.8 L1123.4,346.5 L1125.6,347.8 L1127.8,346.8 L1130.0,347.4 L1132.2,347.1 L1134.4,347.4 L1136.6,346.7 L1138.8,345.6 L1141.0,346.3 L1143.2,346.5 L1145.4,348.2 L1147.6,348.6 L1149.8,347.2 L1152.0,345.8 L1154.2,345.8 L1156.4,346.5 L1158.6,348.4 L1160.8,347.1 L1163.0,346.6 L1165.2,345.8 L1167.4,347.8 L1169.6,347.0 L1171.8,346.6 L1174.0,346.8 L1176.2,348.7 L1178.4,346.5 L1180.6,348.7 L1182.8,348.2 L1185.0,346.8 L1187.2,347.8 L1189.4,346.6 L1191.6,345.7 L1193.8,346.4 L1196.0,345.6 L1198.2,347.3 L1200.4,346.7 L1202.6,347.4 L1204.8,347.7 L1207.0,343.0 L1209.2,347.1 L1211.4,344.5 L1213.6,346.9 L1215.8,345.6 L1218.0,346.8 L1220.2,348.3 L1222.4,344.7 L1224.6,346.9 L1226.8,346.6 L1229.0,344.4 L1231.2,347.4 L1233.4,346.7 L1235.6,346.0 L1237.8,345.6 L1240.0,350.3 L1242.2,345.9 L1244.4,344.1 L1246.6,345.1 L1248.8,345.7 L1251.0,345.5 L1253.2,345.8 L1255.4,344.5 L1257.6,346.3 L1259.8,345.0 L1262.0,343.8 L1264.2,344.3 L1266.4,344.7 L1268.6,346.1 L1270.8,345.5 L1273.0,344.4 L1275.2,344.7 L1277.4,344.8 L1279.6,346.9 L1281.8,343.6 L1284.0,344.8 L1286.2,345.0 L1288.4,342.8 L1290.6,344.1 L1292.8,344.0 L1295.0,343.1 L1297.2,344.3 L1299.4,344.8 L1301.6,344.8 L1303.8,343.2 L1306.0,343.6 L1308.2,346.2 L1310.4,342.0 L1312.6,343.6 L1314.8,344.4 L1317.0,343.5 L1319.2,344.2 L1321.4,343.8 L1323.6,344.7 L1325.8,345.5 L1328.0,343.9 L1330.2,344.7 L1332.4,344.7 L1334.6,344.5 L1336.8,345.3 L1339.0,344.3 L1341.2,346.8 L1343.4,348.3 L1345.6,348.6 L1347.8,348.3 L1350.0,345.9 L1352.2,349.1 L1354.4,346.7 L1356.6,347.6 L1358.8,350.0 L1361.0,346.7 L1363.2,349.1 L1365.4,348.5 L1367.6,348.1 L1369.8,347.4 L1372.0,349.0 L1374.2,348.1 L1376.4,350.0 L1378.6,350.3 L1380.8,347.3 L1383.0,348.4 L1385.2,348.7 L1387.4,347.8 L1389.6,348.0 L1391.8,349.5 L1394.0,349.2 L1396.2,347.6 L1398.4,349.0 L1400.6,350.4 L1402.8,348.4 L1405.0,348.8 L1407.2,351.9 L1409.4,351.6 L1411.6,348.2 L1413.8,348.6 L1416.0,350.7 L1418.2,348.9 L1420.4,350.1 L1422.6,349.9 L1424.8,351.2 L1427.0,347.5 L1429.2,348.0 L1431.4,349.2 L1433.6,352.0 L1435.8,350.6 L1438.0,348.8 L1440.2,351.5 L1442.4,351.8 L1444.6,350.7 L1446.8,350.7 L1449.0,351.7 L1451.2,352.7 L1453.4,351.4 L1455.6,351.9 L1457.8,351.3 L1460.0,351.0 L1462.2,350.4 L1464.4,351.8 L1466.6,351.2 L1468.8,351.3 L1471.0,352.8 L1473.2,352.3 L1475.4,352.8 L1477.6,349.9 L1479.8,352.6 L1482.0,351.2 L1484.2,351.0 L1486.4,351.0 L1488.6,353.5 L1490.8,353.1 L1493.0,351.3 L1495.2,350.9 L1497.4,352.3 L1499.6,351.8 L1501.8,354.4 L1504.0,350.7 L1506.2,350.3 L1508.4,352.2 L1510.6,352.6 L1512.8,352.7 L1515.0,353.5 L1517.2,355.1 L1519.4,352.3 L1521.6,352.1 L1523.8,350.7 L1526.0,353.1 L1528.2,353.9 L1530.4,352.6 L1532.6,354.3 L1534.8,353.0 L1537.0,354.8 L1539.2,353.4 L1541.4,351.8 L1543.6,352.3 L1545.8,351.3 L1548.0,351.0 L1550.2,353.5 L1552.4,354.2 L1554.6,355.5 L1556.8,353.2 L1559.0,353.0 L1561.2,351.9 L1563.4,354.5 L1565.0,353.8" fill="none" stroke="#939594" stroke-width="4.2" stroke-linejoin="round" stroke-linecap="round" />
<path d="M894.6,339.2 L896.8,340.7 L899.0,340.2 L901.2,336.4 L903.4,338.1 L905.6,334.2 L907.8,330.0 L910.0,327.3 L912.2,328.3 L914.4,326.6 L916.6,325.5 L918.8,319.7 L921.0,317.1 L923.2,314.6 L925.4,307.8 L927.6,306.1 L929.8,302.9 L932.0,306.3 L934.2,304.7 L936.4,304.6 L938.6,306.1 L940.8,307.5 L943.0,309.3 L945.2,311.9 L947.4,311.4 L949.6,315.1 L951.8,313.9 L954.0,314.1 L956.2,317.3 L958.4,315.4 L960.6,316.3 L962.8,315.1 L965.0,312.7 L967.2,316.3 L969.4,313.8 L971.6,317.0 L973.8,313.8 L976.0,314.2 L978.2,318.3 L980.4,320.0 L982.6,321.3 L984.8,321.2 L987.0,325.4 L989.2,324.1 L991.4,327.2 L993.6,328.4 L995.8,330.5 L998.0,333.6 L1000.2,333.1 L1002.4,336.0 L1004.6,337.4 L1006.8,335.2 L1009.0,336.7 L1011.2,338.4 L1013.4,338.7 L1015.6,340.5 L1017.8,338.0 L1020.0,341.8 L1022.2,342.0 L1024.4,340.9 L1026.6,339.3 L1028.8,341.1 L1031.0,340.4 L1033.2,341.8 L1035.4,341.0 L1037.6,342.0 L1039.8,340.5 L1042.0,343.0 L1044.2,338.1 L1046.4,339.8 L1048.6,341.7 L1050.8,339.1 L1053.0,342.1 L1055.2,339.5 L1057.4,341.2 L1059.6,339.9 L1061.8,340.5 L1064.0,341.3 L1066.2,341.0 L1068.4,340.6 L1070.6,343.9 L1072.8,341.2 L1075.0,340.0 L1077.2,342.5 L1079.4,342.5 L1081.6,343.1 L1083.8,344.0 L1086.0,340.5 L1088.2,343.3 L1090.4,343.5 L1092.6,342.2 L1094.8,342.7 L1097.0,338.6 L1099.2,341.9 L1101.4,345.1 L1103.6,340.6 L1105.8,342.3 L1108.0,343.5 L1110.2,344.0 L1112.4,345.4 L1114.6,341.1 L1116.8,343.5 L1119.0,344.6 L1121.2,341.9 L1123.4,343.6 L1125.6,346.2 L1127.8,345.5 L1130.0,344.6 L1132.2,340.6 L1134.4,343.9 L1136.6,344.6 L1138.8,343.8 L1141.0,344.1 L1143.2,348.3 L1145.4,344.0 L1147.6,343.1 L1149.8,344.7 L1152.0,344.0 L1154.2,344.0 L1156.4,344.3 L1158.6,345.4 L1160.8,344.5 L1163.0,342.3 L1165.2,343.3 L1167.4,343.6 L1169.6,341.9 L1171.8,343.4 L1174.0,342.3 L1176.2,339.4 L1178.4,340.5 L1180.6,342.1 L1182.8,340.8 L1185.0,337.8 L1187.2,338.2 L1189.4,335.2 L1191.6,333.2 L1193.8,335.0 L1196.0,333.8 L1198.2,333.5 L1200.4,332.3 L1202.6,332.4 L1204.8,331.0 L1207.0,332.0 L1209.2,332.3 L1211.4,330.9 L1213.6,331.8 L1215.8,328.3 L1218.0,329.4 L1220.2,332.2 L1222.4,332.4 L1224.6,330.3 L1226.8,329.8 L1229.0,328.1 L1231.2,330.1 L1233.4,330.6 L1235.6,327.5 L1237.8,330.1 L1240.0,329.9 L1242.2,329.7 L1244.4,327.6 L1246.6,329.7 L1248.8,327.0 L1251.0,330.9 L1253.2,329.1 L1255.4,327.4 L1257.6,330.8 L1259.8,330.7 L1262.0,328.6 L1264.2,332.6 L1266.4,328.8 L1268.6,330.9 L1270.8,332.4 L1273.0,328.4 L1275.2,333.1 L1277.4,332.1 L1279.6,332.6 L1281.8,331.7 L1284.0,333.9 L1286.2,332.3 L1288.4,332.8 L1290.6,333.7 L1292.8,332.9 L1295.0,336.7 L1297.2,333.0 L1299.4,333.9 L1301.6,334.5 L1303.8,335.1 L1306.0,336.2 L1308.2,336.3 L1310.4,335.0 L1312.6,335.0 L1314.8,335.7 L1317.0,336.9 L1319.2,336.9 L1321.4,335.6 L1323.6,333.8 L1325.8,339.5 L1328.0,338.2 L1330.2,337.6 L1332.4,338.0 L1334.6,337.1 L1336.8,336.8 L1339.0,338.0 L1341.2,338.4 L1343.4,338.2 L1345.6,337.4 L1347.8,339.2 L1350.0,340.7 L1352.2,339.6 L1354.4,340.6 L1356.6,338.2 L1358.8,340.9 L1361.0,341.3 L1363.2,340.3 L1365.4,340.0 L1367.6,343.1 L1369.8,341.9 L1372.0,344.0 L1374.2,343.1 L1376.4,344.8 L1378.6,343.8 L1380.8,342.5 L1383.0,344.5 L1385.2,344.3 L1387.4,345.8 L1389.6,344.5 L1391.8,344.7 L1394.0,346.5 L1396.2,347.1 L1398.4,346.7 L1400.6,347.2 L1402.8,346.5 L1405.0,347.1 L1407.2,347.3 L1409.4,346.8 L1411.6,346.5 L1413.8,346.7 L1416.0,349.7 L1418.2,346.7 L1420.4,346.5 L1422.6,346.4 L1424.8,347.0 L1427.0,347.4 L1429.2,345.7 L1431.4,344.7 L1433.6,347.7 L1435.8,345.3 L1438.0,347.8 L1440.2,347.7 L1442.4,349.1 L1444.6,349.9 L1446.8,348.3 L1449.0,347.1 L1451.2,346.4 L1453.4,347.0 L1455.6,348.1 L1457.8,345.4 L1460.0,348.3 L1462.2,348.2 L1464.4,349.1 L1466.6,347.9 L1468.8,348.5 L1471.0,347.5 L1473.2,347.9 L1475.4,346.3 L1477.6,348.8 L1479.8,350.7 L1482.0,348.9 L1484.2,349.2 L1486.4,347.5 L1488.6,350.7 L1490.8,347.9 L1493.0,350.0 L1495.2,349.1 L1497.4,347.8 L1499.6,350.4 L1501.8,349.1 L1504.0,349.4 L1506.2,349.8 L1508.4,349.2 L1510.6,348.8 L1512.8,349.9 L1515.0,348.8 L1517.2,349.4 L1519.4,348.5 L1521.6,347.5 L1523.8,348.6 L1526.0,348.9 L1528.2,349.6 L1530.4,351.1 L1532.6,347.4 L1534.8,349.8 L1537.0,346.8 L1539.2,348.3 L1541.4,349.1 L1543.6,346.8 L1545.8,347.4 L1548.0,350.0 L1550.2,349.9 L1552.4,349.7 L1554.6,348.9 L1556.8,352.7 L1559.0,349.7 L1561.2,348.8 L1563.4,352.2 L1565.0,350.8" fill="none" stroke="#2f4fae" stroke-width="4.5" stroke-linejoin="round" stroke-linecap="round" />
<path d="M894.6,447.4 L896.8,456.0 L899.0,458.0 L901.2,458.0 L903.4,456.1 L905.6,452.9 L907.8,453.9 L910.0,452.4 L912.2,452.2 L914.4,455.1 L916.6,459.9 L918.8,459.6 L921.0,459.8 L923.2,460.1 L925.4,458.8 L927.6,456.2 L929.8,458.6 L932.0,459.1 L934.2,459.7 L936.4,461.6 L938.6,461.1 L940.8,462.7 L943.0,464.6 L945.2,462.9 L947.4,465.6 L949.6,465.8 L951.8,464.9 L954.0,466.3 L956.2,465.2 L958.4,463.3 L960.6,465.8 L962.8,464.9 L965.0,465.1 L967.2,464.9 L969.4,466.5 L971.6,465.6 L973.8,464.3 L976.0,465.9 L978.2,466.4 L980.4,464.9 L982.6,465.7 L984.8,466.2 L987.0,466.6 L989.2,468.4 L991.4,469.9 L993.6,471.7 L995.8,471.7 L998.0,472.2 L1000.2,473.1 L1002.4,474.0 L1004.6,472.6 L1006.8,474.4 L1009.0,474.4 L1011.2,474.2 L1013.4,473.9 L1015.6,474.0 L1017.8,474.5 L1020.0,473.4 L1022.2,475.7 L1024.4,475.1 L1026.6,475.4 L1028.8,475.8 L1031.0,476.3 L1033.2,474.8 L1035.4,475.5 L1037.6,473.8 L1039.8,473.1 L1042.0,473.5 L1044.2,477.7 L1046.4,473.8 L1048.6,476.6 L1050.8,477.9 L1053.0,475.6 L1055.2,478.2 L1057.4,478.5 L1059.6,477.5 L1061.8,479.3 L1064.0,477.3 L1066.2,475.8 L1068.4,477.4 L1070.6,476.3 L1072.8,475.4 L1075.0,475.6 L1077.2,480.0 L1079.4,476.7 L1081.6,477.5 L1083.8,476.9 L1086.0,478.0 L1088.2,477.7 L1090.4,477.6 L1092.6,476.8 L1094.8,476.7 L1097.0,477.6 L1099.2,478.9 L1101.4,481.2 L1103.6,480.0 L1105.8,481.0 L1108.0,479.5 L1110.2,478.8 L1112.4,477.3 L1114.6,478.9 L1116.8,476.3 L1119.0,478.6 L1121.2,480.9 L1123.4,479.3 L1125.6,480.3 L1127.8,478.4 L1130.0,477.2 L1132.2,478.3 L1134.4,478.4 L1136.6,480.3 L1138.8,481.2 L1141.0,478.0 L1143.2,478.4 L1145.4,478.6 L1147.6,478.4 L1149.8,477.3 L1152.0,478.9 L1154.2,479.2 L1156.4,479.2 L1158.6,477.3 L1160.8,478.6 L1163.0,476.6 L1165.2,479.8 L1167.4,477.5 L1169.6,478.3 L1171.8,478.1 L1174.0,477.9 L1176.2,477.4 L1178.4,476.5 L1180.6,480.7 L1182.8,478.9 L1185.0,478.9 L1187.2,481.1 L1189.4,478.4 L1191.6,479.2 L1193.8,478.6 L1196.0,479.9 L1198.2,479.1 L1200.4,478.9 L1202.6,478.2 L1204.8,478.8 L1207.0,479.9 L1209.2,476.0 L1211.4,478.3 L1213.6,478.0 L1215.8,478.1 L1218.0,476.1 L1220.2,479.3 L1222.4,477.4 L1224.6,478.2 L1226.8,477.8 L1229.0,476.4 L1231.2,477.9 L1233.4,476.2 L1235.6,477.3 L1237.8,478.1 L1240.0,478.4 L1242.2,478.5 L1244.4,478.3 L1246.6,481.0 L1248.8,479.0 L1251.0,477.0 L1253.2,477.8 L1255.4,477.7 L1257.6,478.3 L1259.8,477.8 L1262.0,477.5 L1264.2,480.5 L1266.4,478.6 L1268.6,478.2 L1270.8,478.3 L1273.0,478.3 L1275.2,480.3 L1277.4,479.2 L1279.6,480.0 L1281.8,474.9 L1284.0,479.0 L1286.2,479.9 L1288.4,481.1 L1290.6,478.7 L1292.8,476.7 L1295.0,479.5 L1297.2,478.0 L1299.4,476.6 L1301.6,478.1 L1303.8,480.1 L1306.0,480.3 L1308.2,479.7 L1310.4,477.6 L1312.6,481.9 L1314.8,477.6 L1317.0,478.9 L1319.2,477.4 L1321.4,480.8 L1323.6,479.9 L1325.8,480.6 L1328.0,479.8 L1330.2,479.9 L1332.4,480.4 L1334.6,478.1 L1336.8,481.8 L1339.0,481.9 L1341.2,480.6 L1343.4,481.3 L1345.6,481.8 L1347.8,483.5 L1350.0,482.4 L1352.2,482.0 L1354.4,481.5 L1356.6,480.4 L1358.8,481.5 L1361.0,482.4 L1363.2,482.1 L1365.4,482.5 L1367.6,483.3 L1369.8,483.0 L1372.0,482.9 L1374.2,483.4 L1376.4,482.8 L1378.6,482.6 L1380.8,483.2 L1383.0,480.6 L1385.2,484.2 L1387.4,481.2 L1389.6,483.8 L1391.8,482.8 L1394.0,484.2 L1396.2,482.9 L1398.4,481.8 L1400.6,484.2 L1402.8,483.2 L1405.0,483.1 L1407.2,483.1 L1409.4,484.2 L1411.6,484.0 L1413.8,483.3 L1416.0,481.2 L1418.2,482.6 L1420.4,483.2 L1422.6,485.3 L1424.8,483.6 L1427.0,483.1 L1429.2,484.6 L1431.4,483.1 L1433.6,483.2 L1435.8,483.4 L1438.0,481.5 L1440.2,484.4 L1442.4,483.8 L1444.6,483.0 L1446.8,482.0 L1449.0,483.6 L1451.2,485.1 L1453.4,482.7 L1455.6,482.2 L1457.8,484.0 L1460.0,481.6 L1462.2,480.9 L1464.4,483.0 L1466.6,482.7 L1468.8,483.3 L1471.0,483.0 L1473.2,484.0 L1475.4,483.4 L1477.6,483.0 L1479.8,483.2 L1482.0,484.5 L1484.2,484.9 L1486.4,484.9 L1488.6,484.6 L1490.8,479.9 L1493.0,482.6 L1495.2,483.5 L1497.4,484.1 L1499.6,482.0 L1501.8,485.6 L1504.0,484.3 L1506.2,483.2 L1508.4,484.2 L1510.6,483.6 L1512.8,483.1 L1515.0,484.7 L1517.2,483.5 L1519.4,482.4 L1521.6,483.3 L1523.8,484.0 L1526.0,482.9 L1528.2,485.7 L1530.4,482.9 L1532.6,486.3 L1534.8,485.3 L1537.0,483.1 L1539.2,484.4 L1541.4,485.7 L1543.6,484.1 L1545.8,482.9 L1548.0,484.5 L1550.2,486.7 L1552.4,482.6 L1554.6,485.1 L1556.8,484.4 L1559.0,484.3 L1561.2,484.0 L1563.4,484.1 L1565.0,485.7" fill="none" stroke="#939594" stroke-width="4.2" stroke-linejoin="round" stroke-linecap="round" />
<path d="M894.6,457.6 L896.8,455.2 L899.0,457.7 L901.2,452.7 L903.4,450.6 L905.6,442.4 L907.8,438.3 L910.0,434.6 L912.2,433.3 L914.4,430.3 L916.6,431.0 L918.8,430.6 L921.0,433.9 L923.2,432.1 L925.4,437.6 L927.6,440.2 L929.8,443.3 L932.0,445.8 L934.2,450.8 L936.4,451.7 L938.6,454.7 L940.8,459.7 L943.0,458.9 L945.2,464.4 L947.4,463.0 L949.6,463.7 L951.8,463.5 L954.0,463.9 L956.2,463.0 L958.4,462.8 L960.6,462.7 L962.8,463.6 L965.0,463.0 L967.2,462.6 L969.4,460.9 L971.6,459.9 L973.8,458.0 L976.0,461.3 L978.2,462.0 L980.4,461.0 L982.6,463.2 L984.8,464.4 L987.0,463.7 L989.2,465.9 L991.4,465.9 L993.6,464.2 L995.8,466.8 L998.0,467.7 L1000.2,469.5 L1002.4,468.1 L1004.6,468.9 L1006.8,468.5 L1009.0,470.0 L1011.2,470.4 L1013.4,471.7 L1015.6,471.7 L1017.8,471.0 L1020.0,471.3 L1022.2,471.3 L1024.4,471.4 L1026.6,473.4 L1028.8,468.3 L1031.0,471.4 L1033.2,472.1 L1035.4,473.2 L1037.6,470.4 L1039.8,472.4 L1042.0,473.2 L1044.2,471.6 L1046.4,469.9 L1048.6,472.1 L1050.8,471.3 L1053.0,474.1 L1055.2,472.5 L1057.4,476.3 L1059.6,474.5 L1061.8,473.7 L1064.0,474.4 L1066.2,473.9 L1068.4,476.1 L1070.6,477.6 L1072.8,475.4 L1075.0,476.7 L1077.2,473.8 L1079.4,474.7 L1081.6,476.5 L1083.8,470.8 L1086.0,473.3 L1088.2,472.3 L1090.4,467.5 L1092.6,467.2 L1094.8,466.9 L1097.0,468.4 L1099.2,465.5 L1101.4,464.8 L1103.6,464.9 L1105.8,463.1 L1108.0,462.2 L1110.2,460.5 L1112.4,461.5 L1114.6,458.1 L1116.8,460.4 L1119.0,457.0 L1121.2,455.5 L1123.4,456.6 L1125.6,455.5 L1127.8,451.6 L1130.0,453.8 L1132.2,451.1 L1134.4,451.2 L1136.6,452.8 L1138.8,450.1 L1141.0,451.1 L1143.2,449.7 L1145.4,452.2 L1147.6,449.1 L1149.8,447.3 L1152.0,447.1 L1154.2,447.2 L1156.4,448.5 L1158.6,448.3 L1160.8,449.6 L1163.0,448.6 L1165.2,448.6 L1167.4,448.9 L1169.6,448.4 L1171.8,449.0 L1174.0,449.8 L1176.2,449.9 L1178.4,448.3 L1180.6,446.8 L1182.8,448.2 L1185.0,449.8 L1187.2,446.4 L1189.4,449.2 L1191.6,450.7 L1193.8,449.6 L1196.0,449.1 L1198.2,453.1 L1200.4,452.9 L1202.6,451.0 L1204.8,453.3 L1207.0,453.6 L1209.2,450.7 L1211.4,455.9 L1213.6,451.5 L1215.8,452.7 L1218.0,451.9 L1220.2,453.8 L1222.4,452.3 L1224.6,454.4 L1226.8,456.2 L1229.0,455.5 L1231.2,455.4 L1233.4,458.3 L1235.6,455.7 L1237.8,458.7 L1240.0,457.7 L1242.2,459.0 L1244.4,459.3 L1246.6,460.1 L1248.8,460.5 L1251.0,460.2 L1253.2,461.2 L1255.4,463.2 L1257.6,463.2 L1259.8,462.6 L1262.0,463.9 L1264.2,464.6 L1266.4,466.0 L1268.6,466.8 L1270.8,467.2 L1273.0,466.6 L1275.2,467.9 L1277.4,466.5 L1279.6,465.0 L1281.8,469.0 L1284.0,467.3 L1286.2,468.6 L1288.4,468.6 L1290.6,471.3 L1292.8,469.2 L1295.0,471.5 L1297.2,470.8 L1299.4,470.1 L1301.6,469.9 L1303.8,472.8 L1306.0,473.0 L1308.2,473.7 L1310.4,475.4 L1312.6,473.6 L1314.8,473.8 L1317.0,473.5 L1319.2,474.0 L1321.4,473.6 L1323.6,473.1 L1325.8,477.0 L1328.0,472.1 L1330.2,475.1 L1332.4,475.5 L1334.6,475.3 L1336.8,474.0 L1339.0,475.1 L1341.2,474.9 L1343.4,474.3 L1345.6,475.8 L1347.8,475.4 L1350.0,475.4 L1352.2,477.2 L1354.4,475.0 L1356.6,477.2 L1358.8,475.9 L1361.0,477.5 L1363.2,477.2 L1365.4,477.6 L1367.6,476.1 L1369.8,476.6 L1372.0,476.7 L1374.2,478.2 L1376.4,479.1 L1378.6,479.7 L1380.8,477.8 L1383.0,478.7 L1385.2,476.7 L1387.4,476.1 L1389.6,478.0 L1391.8,478.4 L1394.0,477.4 L1396.2,477.3 L1398.4,480.4 L1400.6,478.8 L1402.8,477.8 L1405.0,483.1 L1407.2,480.5 L1409.4,480.0 L1411.6,481.4 L1413.8,479.7 L1416.0,482.8 L1418.2,478.9 L1420.4,479.4 L1422.6,481.0 L1424.8,480.3 L1427.0,483.2 L1429.2,479.4 L1431.4,480.7 L1433.6,482.0 L1435.8,482.6 L1438.0,483.2 L1440.2,482.4 L1442.4,484.9 L1444.6,481.5 L1446.8,482.4 L1449.0,483.3 L1451.2,481.8 L1453.4,481.9 L1455.6,481.7 L1457.8,481.5 L1460.0,480.9 L1462.2,481.7 L1464.4,480.4 L1466.6,483.0 L1468.8,480.4 L1471.0,485.2 L1473.2,484.8 L1475.4,484.0 L1477.6,482.3 L1479.8,481.9 L1482.0,484.3 L1484.2,482.9 L1486.4,483.5 L1488.6,481.8 L1490.8,484.2 L1493.0,481.8 L1495.2,483.0 L1497.4,480.6 L1499.6,482.0 L1501.8,483.6 L1504.0,482.3 L1506.2,482.4 L1508.4,484.0 L1510.6,482.9 L1512.8,484.6 L1515.0,479.9 L1517.2,483.8 L1519.4,483.7 L1521.6,481.1 L1523.8,481.4 L1526.0,484.2 L1528.2,481.7 L1530.4,482.3 L1532.6,483.9 L1534.8,482.7 L1537.0,483.8 L1539.2,482.1 L1541.4,483.6 L1543.6,484.6 L1545.8,483.6 L1548.0,480.4 L1550.2,484.1 L1552.4,483.3 L1554.6,482.0 L1556.8,485.0 L1559.0,481.0 L1561.2,485.7 L1563.4,482.4 L1565.0,485.3" fill="none" stroke="#2f4fae" stroke-width="4.5" stroke-linejoin="round" stroke-linecap="round" />
<path d="M894.6,595.5 L896.8,594.6 L899.0,596.6 L901.2,597.0 L903.4,597.3 L905.6,596.2 L907.8,591.5 L910.0,593.0 L912.2,595.0 L914.4,596.5 L916.6,598.7 L918.8,601.1 L921.0,604.1 L923.2,603.7 L925.4,600.3 L927.6,597.9 L929.8,599.1 L932.0,594.3 L934.2,595.7 L936.4,594.8 L938.6,594.3 L940.8,597.4 L943.0,598.0 L945.2,600.8 L947.4,602.6 L949.6,600.1 L951.8,602.0 L954.0,602.4 L956.2,600.9 L958.4,600.8 L960.6,604.1 L962.8,602.0 L965.0,602.8 L967.2,602.8 L969.4,603.3 L971.6,603.1 L973.8,605.1 L976.0,606.1 L978.2,604.5 L980.4,603.7 L982.6,605.8 L984.8,604.2 L987.0,605.5 L989.2,608.0 L991.4,609.5 L993.6,607.4 L995.8,605.9 L998.0,608.3 L1000.2,604.9 L1002.4,607.0 L1004.6,609.8 L1006.8,609.0 L1009.0,606.6 L1011.2,606.5 L1013.4,609.6 L1015.6,608.6 L1017.8,608.0 L1020.0,609.3 L1022.2,608.1 L1024.4,606.5 L1026.6,609.8 L1028.8,608.1 L1031.0,607.6 L1033.2,607.2 L1035.4,609.1 L1037.6,607.9 L1039.8,609.6 L1042.0,608.5 L1044.2,610.1 L1046.4,608.4 L1048.6,608.1 L1050.8,606.5 L1053.0,607.5 L1055.2,609.7 L1057.4,612.5 L1059.6,607.3 L1061.8,607.6 L1064.0,609.2 L1066.2,609.4 L1068.4,608.0 L1070.6,608.9 L1072.8,606.9 L1075.0,608.5 L1077.2,609.9 L1079.4,610.8 L1081.6,608.6 L1083.8,608.5 L1086.0,609.4 L1088.2,610.2 L1090.4,609.4 L1092.6,607.9 L1094.8,609.3 L1097.0,610.0 L1099.2,608.1 L1101.4,607.4 L1103.6,609.6 L1105.8,609.5 L1108.0,610.3 L1110.2,609.3 L1112.4,608.5 L1114.6,608.8 L1116.8,608.2 L1119.0,608.4 L1121.2,608.9 L1123.4,609.0 L1125.6,611.0 L1127.8,608.3 L1130.0,609.8 L1132.2,609.2 L1134.4,611.7 L1136.6,610.3 L1138.8,609.6 L1141.0,611.1 L1143.2,610.2 L1145.4,609.6 L1147.6,612.1 L1149.8,611.1 L1152.0,612.4 L1154.2,611.8 L1156.4,611.4 L1158.6,610.6 L1160.8,609.2 L1163.0,611.4 L1165.2,610.7 L1167.4,611.5 L1169.6,610.7 L1171.8,610.0 L1174.0,609.6 L1176.2,611.7 L1178.4,612.5 L1180.6,610.6 L1182.8,611.6 L1185.0,612.7 L1187.2,610.1 L1189.4,610.8 L1191.6,609.9 L1193.8,612.7 L1196.0,611.6 L1198.2,610.8 L1200.4,609.4 L1202.6,611.2 L1204.8,612.7 L1207.0,611.2 L1209.2,611.1 L1211.4,612.4 L1213.6,610.2 L1215.8,611.8 L1218.0,612.5 L1220.2,610.9 L1222.4,610.8 L1224.6,612.2 L1226.8,611.8 L1229.0,611.7 L1231.2,612.2 L1233.4,612.3 L1235.6,611.0 L1237.8,611.3 L1240.0,612.7 L1242.2,613.5 L1244.4,613.8 L1246.6,611.3 L1248.8,613.6 L1251.0,613.3 L1253.2,612.4 L1255.4,613.0 L1257.6,613.5 L1259.8,614.7 L1262.0,611.3 L1264.2,613.3 L1266.4,612.5 L1268.6,612.5 L1270.8,614.1 L1273.0,613.8 L1275.2,611.6 L1277.4,612.5 L1279.6,613.2 L1281.8,611.3 L1284.0,614.0 L1286.2,612.9 L1288.4,613.3 L1290.6,613.5 L1292.8,615.3 L1295.0,613.2 L1297.2,612.7 L1299.4,615.3 L1301.6,612.6 L1303.8,612.6 L1306.0,611.6 L1308.2,614.5 L1310.4,613.6 L1312.6,613.8 L1314.8,613.5 L1317.0,613.1 L1319.2,612.3 L1321.4,612.3 L1323.6,613.7 L1325.8,613.4 L1328.0,615.1 L1330.2,612.3 L1332.4,612.6 L1334.6,611.9 L1336.8,614.7 L1339.0,611.6 L1341.2,613.9 L1343.4,614.7 L1345.6,612.8 L1347.8,613.8 L1350.0,610.3 L1352.2,612.4 L1354.4,610.8 L1356.6,613.0 L1358.8,612.7 L1361.0,611.8 L1363.2,613.7 L1365.4,613.0 L1367.6,611.9 L1369.8,611.9 L1372.0,610.7 L1374.2,612.2 L1376.4,614.9 L1378.6,611.5 L1380.8,612.8 L1383.0,611.7 L1385.2,613.2 L1387.4,612.8 L1389.6,612.0 L1391.8,610.1 L1394.0,611.6 L1396.2,613.6 L1398.4,611.9 L1400.6,612.9 L1402.8,611.6 L1405.0,610.0 L1407.2,612.7 L1409.4,612.6 L1411.6,611.6 L1413.8,611.8 L1416.0,612.7 L1418.2,611.7 L1420.4,612.9 L1422.6,612.3 L1424.8,609.8 L1427.0,612.5 L1429.2,612.0 L1431.4,611.8 L1433.6,613.3 L1435.8,612.3 L1438.0,613.6 L1440.2,614.4 L1442.4,613.3 L1444.6,611.4 L1446.8,612.4 L1449.0,614.4 L1451.2,613.1 L1453.4,612.5 L1455.6,613.4 L1457.8,614.2 L1460.0,613.9 L1462.2,614.4 L1464.4,612.8 L1466.6,613.5 L1468.8,613.6 L1471.0,613.9 L1473.2,611.5 L1475.4,613.8 L1477.6,612.5 L1479.8,615.8 L1482.0,616.1 L1484.2,616.3 L1486.4,615.3 L1488.6,613.8 L1490.8,615.6 L1493.0,614.3 L1495.2,615.3 L1497.4,613.6 L1499.6,614.0 L1501.8,615.3 L1504.0,616.9 L1506.2,614.9 L1508.4,617.6 L1510.6,618.3 L1512.8,613.6 L1515.0,615.1 L1517.2,614.1 L1519.4,615.1 L1521.6,614.7 L1523.8,615.3 L1526.0,616.6 L1528.2,616.7 L1530.4,615.9 L1532.6,615.7 L1534.8,615.9 L1537.0,616.0 L1539.2,616.6 L1541.4,616.0 L1543.6,616.6 L1545.8,614.5 L1548.0,617.1 L1550.2,618.3 L1552.4,616.5 L1554.6,614.7 L1556.8,618.0 L1559.0,616.1 L1561.2,613.0 L1563.4,616.4 L1565.0,617.4" fill="none" stroke="#939594" stroke-width="4.2" stroke-linejoin="round" stroke-linecap="round" />
<path d="M894.6,583.8 L896.8,584.0 L899.0,581.6 L901.2,578.9 L903.4,572.4 L905.6,568.7 L907.8,568.0 L910.0,569.3 L912.2,568.7 L914.4,571.4 L916.6,576.3 L918.8,578.6 L921.0,584.4 L923.2,591.7 L925.4,596.9 L927.6,600.6 L929.8,602.0 L932.0,606.7 L934.2,604.9 L936.4,607.3 L938.6,605.9 L940.8,606.0 L943.0,605.1 L945.2,600.7 L947.4,599.5 L949.6,598.3 L951.8,597.2 L954.0,598.6 L956.2,596.2 L958.4,598.4 L960.6,597.9 L962.8,596.5 L965.0,597.9 L967.2,597.6 L969.4,597.8 L971.6,599.0 L973.8,600.6 L976.0,599.1 L978.2,599.9 L980.4,598.0 L982.6,600.1 L984.8,601.3 L987.0,600.1 L989.2,598.4 L991.4,595.6 L993.6,593.3 L995.8,592.7 L998.0,589.5 L1000.2,587.7 L1002.4,588.3 L1004.6,583.6 L1006.8,584.8 L1009.0,578.3 L1011.2,578.6 L1013.4,574.8 L1015.6,575.0 L1017.8,572.1 L1020.0,572.2 L1022.2,570.8 L1024.4,569.3 L1026.6,569.5 L1028.8,569.8 L1031.0,566.1 L1033.2,567.2 L1035.4,565.3 L1037.6,564.3 L1039.8,566.3 L1042.0,559.9 L1044.2,561.4 L1046.4,559.9 L1048.6,561.8 L1050.8,562.0 L1053.0,567.4 L1055.2,563.1 L1057.4,565.1 L1059.6,564.6 L1061.8,562.5 L1064.0,563.8 L1066.2,565.4 L1068.4,563.5 L1070.6,563.4 L1072.8,563.5 L1075.0,560.6 L1077.2,561.2 L1079.4,562.6 L1081.6,563.0 L1083.8,561.5 L1086.0,562.7 L1088.2,563.5 L1090.4,564.2 L1092.6,566.0 L1094.8,565.9 L1097.0,566.8 L1099.2,565.4 L1101.4,566.5 L1103.6,568.9 L1105.8,567.1 L1108.0,570.1 L1110.2,569.6 L1112.4,570.0 L1114.6,572.6 L1116.8,571.5 L1119.0,572.0 L1121.2,572.9 L1123.4,574.5 L1125.6,578.6 L1127.8,573.0 L1130.0,576.3 L1132.2,576.7 L1134.4,578.9 L1136.6,577.8 L1138.8,575.8 L1141.0,581.3 L1143.2,578.9 L1145.4,580.9 L1147.6,580.0 L1149.8,581.1 L1152.0,582.6 L1154.2,585.1 L1156.4,585.9 L1158.6,584.8 L1160.8,587.0 L1163.0,586.7 L1165.2,588.1 L1167.4,588.9 L1169.6,590.3 L1171.8,589.5 L1174.0,591.0 L1176.2,592.2 L1178.4,592.9 L1180.6,592.5 L1182.8,596.6 L1185.0,594.5 L1187.2,596.8 L1189.4,596.8 L1191.6,598.7 L1193.8,594.9 L1196.0,600.9 L1198.2,598.6 L1200.4,597.8 L1202.6,600.1 L1204.8,603.3 L1207.0,601.6 L1209.2,599.9 L1211.4,601.4 L1213.6,604.2 L1215.8,601.3 L1218.0,603.5 L1220.2,604.0 L1222.4,607.8 L1224.6,605.3 L1226.8,608.0 L1229.0,606.1 L1231.2,606.4 L1233.4,609.2 L1235.6,609.2 L1237.8,606.4 L1240.0,609.7 L1242.2,609.8 L1244.4,608.3 L1246.6,609.5 L1248.8,609.7 L1251.0,608.8 L1253.2,608.7 L1255.4,608.7 L1257.6,609.3 L1259.8,608.0 L1262.0,609.7 L1264.2,607.9 L1266.4,610.0 L1268.6,609.8 L1270.8,608.7 L1273.0,611.2 L1275.2,612.6 L1277.4,611.9 L1279.6,608.5 L1281.8,611.9 L1284.0,610.6 L1286.2,610.3 L1288.4,609.7 L1290.6,610.5 L1292.8,612.3 L1295.0,611.3 L1297.2,610.1 L1299.4,609.8 L1301.6,610.2 L1303.8,611.5 L1306.0,613.2 L1308.2,609.5 L1310.4,610.9 L1312.6,610.5 L1314.8,610.1 L1317.0,611.7 L1319.2,612.0 L1321.4,609.5 L1323.6,610.1 L1325.8,613.1 L1328.0,612.1 L1330.2,612.5 L1332.4,611.3 L1334.6,611.6 L1336.8,612.8 L1339.0,611.7 L1341.2,611.1 L1343.4,612.6 L1345.6,614.0 L1347.8,611.6 L1350.0,614.4 L1352.2,614.1 L1354.4,612.3 L1356.6,613.6 L1358.8,613.6 L1361.0,614.7 L1363.2,614.8 L1365.4,612.5 L1367.6,612.5 L1369.8,615.7 L1372.0,614.7 L1374.2,615.2 L1376.4,615.2 L1378.6,616.9 L1380.8,613.4 L1383.0,616.5 L1385.2,614.1 L1387.4,616.2 L1389.6,617.1 L1391.8,613.6 L1394.0,616.0 L1396.2,615.1 L1398.4,615.2 L1400.6,615.6 L1402.8,614.2 L1405.0,614.3 L1407.2,616.4 L1409.4,616.6 L1411.6,614.7 L1413.8,613.5 L1416.0,618.3 L1418.2,616.6 L1420.4,615.6 L1422.6,613.7 L1424.8,614.2 L1427.0,615.2 L1429.2,613.6 L1431.4,616.8 L1433.6,614.8 L1435.8,615.1 L1438.0,613.2 L1440.2,613.3 L1442.4,613.4 L1444.6,614.7 L1446.8,614.0 L1449.0,614.0 L1451.2,614.8 L1453.4,614.6 L1455.6,616.3 L1457.8,614.1 L1460.0,613.1 L1462.2,614.3 L1464.4,616.2 L1466.6,613.7 L1468.8,614.4 L1471.0,613.9 L1473.2,614.9 L1475.4,614.7 L1477.6,613.3 L1479.8,614.1 L1482.0,615.6 L1484.2,615.8 L1486.4,615.6 L1488.6,615.5 L1490.8,614.0 L1493.0,614.0 L1495.2,615.6 L1497.4,613.0 L1499.6,614.4 L1501.8,612.1 L1504.0,614.0 L1506.2,613.6 L1508.4,613.0 L1510.6,615.3 L1512.8,613.6 L1515.0,614.1 L1517.2,614.3 L1519.4,613.7 L1521.6,616.5 L1523.8,614.1 L1526.0,615.0 L1528.2,613.1 L1530.4,614.2 L1532.6,614.4 L1534.8,614.5 L1537.0,614.1 L1539.2,615.1 L1541.4,617.0 L1543.6,614.8 L1545.8,614.9 L1548.0,614.6 L1550.2,618.4 L1552.4,617.3 L1554.6,616.0 L1556.8,616.2 L1559.0,614.5 L1561.2,615.3 L1563.4,615.8 L1565.0,615.7" fill="none" stroke="#2f4fae" stroke-width="4.5" stroke-linejoin="round" stroke-linecap="round" />
<path d="M894.6,711.2 L896.8,716.3 L899.0,721.5 L901.2,722.5 L903.4,718.6 L905.6,718.9 L907.8,718.1 L910.0,714.8 L912.2,718.1 L914.4,720.3 L916.6,725.3 L918.8,723.0 L921.0,722.7 L923.2,723.7 L925.4,726.6 L927.6,722.9 L929.8,722.0 L932.0,723.9 L934.2,723.5 L936.4,725.3 L938.6,722.2 L940.8,722.4 L943.0,724.6 L945.2,726.2 L947.4,726.9 L949.6,728.5 L951.8,726.2 L954.0,727.5 L956.2,728.7 L958.4,730.0 L960.6,729.7 L962.8,728.7 L965.0,728.1 L967.2,730.4 L969.4,730.6 L971.6,732.7 L973.8,729.4 L976.0,731.7 L978.2,728.5 L980.4,729.5 L982.6,729.8 L984.8,730.6 L987.0,730.8 L989.2,732.0 L991.4,733.3 L993.6,733.7 L995.8,735.8 L998.0,735.7 L1000.2,736.4 L1002.4,738.7 L1004.6,737.9 L1006.8,738.3 L1009.0,738.6 L1011.2,739.2 L1013.4,740.3 L1015.6,739.2 L1017.8,741.8 L1020.0,742.6 L1022.2,742.4 L1024.4,740.5 L1026.6,739.3 L1028.8,740.8 L1031.0,741.6 L1033.2,742.5 L1035.4,741.4 L1037.6,741.3 L1039.8,743.5 L1042.0,741.0 L1044.2,743.1 L1046.4,743.0 L1048.6,740.4 L1050.8,742.3 L1053.0,741.4 L1055.2,741.0 L1057.4,739.9 L1059.6,740.3 L1061.8,742.6 L1064.0,741.7 L1066.2,742.5 L1068.4,740.9 L1070.6,741.8 L1072.8,741.8 L1075.0,740.3 L1077.2,740.2 L1079.4,742.7 L1081.6,742.3 L1083.8,741.1 L1086.0,742.0 L1088.2,742.9 L1090.4,744.3 L1092.6,741.1 L1094.8,742.9 L1097.0,744.7 L1099.2,742.2 L1101.4,743.9 L1103.6,739.1 L1105.8,743.9 L1108.0,742.2 L1110.2,740.0 L1112.4,743.1 L1114.6,743.4 L1116.8,743.6 L1119.0,743.6 L1121.2,742.2 L1123.4,741.5 L1125.6,741.9 L1127.8,742.4 L1130.0,743.0 L1132.2,742.1 L1134.4,742.8 L1136.6,743.8 L1138.8,743.3 L1141.0,745.6 L1143.2,745.6 L1145.4,741.7 L1147.6,742.5 L1149.8,741.7 L1152.0,741.9 L1154.2,743.9 L1156.4,742.1 L1158.6,742.0 L1160.8,742.9 L1163.0,744.2 L1165.2,742.8 L1167.4,742.8 L1169.6,744.3 L1171.8,743.8 L1174.0,743.7 L1176.2,744.3 L1178.4,742.0 L1180.6,743.4 L1182.8,742.4 L1185.0,744.3 L1187.2,744.0 L1189.4,741.8 L1191.6,744.6 L1193.8,741.6 L1196.0,744.4 L1198.2,743.2 L1200.4,741.9 L1202.6,741.6 L1204.8,742.5 L1207.0,742.8 L1209.2,742.0 L1211.4,743.5 L1213.6,741.2 L1215.8,742.8 L1218.0,742.8 L1220.2,740.5 L1222.4,743.1 L1224.6,741.2 L1226.8,739.8 L1229.0,742.0 L1231.2,742.4 L1233.4,743.7 L1235.6,742.1 L1237.8,744.4 L1240.0,744.4 L1242.2,744.0 L1244.4,744.2 L1246.6,743.1 L1248.8,742.0 L1251.0,743.4 L1253.2,743.8 L1255.4,742.9 L1257.6,742.4 L1259.8,740.8 L1262.0,743.5 L1264.2,743.1 L1266.4,741.1 L1268.6,742.8 L1270.8,743.5 L1273.0,742.5 L1275.2,743.6 L1277.4,743.6 L1279.6,740.9 L1281.8,742.3 L1284.0,743.2 L1286.2,743.8 L1288.4,744.3 L1290.6,740.4 L1292.8,742.6 L1295.0,743.5 L1297.2,744.1 L1299.4,744.7 L1301.6,741.6 L1303.8,742.2 L1306.0,741.4 L1308.2,743.6 L1310.4,741.1 L1312.6,744.1 L1314.8,743.8 L1317.0,743.3 L1319.2,740.1 L1321.4,741.9 L1323.6,743.6 L1325.8,741.0 L1328.0,742.4 L1330.2,742.6 L1332.4,743.7 L1334.6,743.0 L1336.8,743.0 L1339.0,742.2 L1341.2,742.7 L1343.4,742.5 L1345.6,743.6 L1347.8,742.5 L1350.0,743.9 L1352.2,740.7 L1354.4,744.1 L1356.6,742.5 L1358.8,744.1 L1361.0,742.8 L1363.2,743.7 L1365.4,744.5 L1367.6,742.1 L1369.8,742.8 L1372.0,742.5 L1374.2,743.0 L1376.4,740.8 L1378.6,742.6 L1380.8,742.5 L1383.0,741.8 L1385.2,742.5 L1387.4,741.0 L1389.6,744.4 L1391.8,743.3 L1394.0,745.0 L1396.2,741.8 L1398.4,741.4 L1400.6,743.2 L1402.8,740.8 L1405.0,743.1 L1407.2,742.0 L1409.4,742.4 L1411.6,743.2 L1413.8,742.9 L1416.0,745.1 L1418.2,743.6 L1420.4,741.3 L1422.6,744.1 L1424.8,741.3 L1427.0,743.0 L1429.2,741.4 L1431.4,741.9 L1433.6,744.5 L1435.8,742.3 L1438.0,742.2 L1440.2,742.3 L1442.4,742.6 L1444.6,744.7 L1446.8,741.6 L1449.0,741.5 L1451.2,743.7 L1453.4,741.1 L1455.6,742.6 L1457.8,744.4 L1460.0,743.1 L1462.2,742.5 L1464.4,742.2 L1466.6,742.0 L1468.8,742.4 L1471.0,743.3 L1473.2,744.6 L1475.4,744.3 L1477.6,742.5 L1479.8,742.3 L1482.0,744.0 L1484.2,741.0 L1486.4,742.7 L1488.6,742.8 L1490.8,741.9 L1493.0,742.1 L1495.2,743.7 L1497.4,741.3 L1499.6,742.2 L1501.8,742.6 L1504.0,743.4 L1506.2,741.7 L1508.4,744.7 L1510.6,743.0 L1512.8,743.1 L1515.0,743.0 L1517.2,742.6 L1519.4,742.3 L1521.6,744.8 L1523.8,743.7 L1526.0,743.4 L1528.2,744.7 L1530.4,742.7 L1532.6,744.3 L1534.8,743.6 L1537.0,742.6 L1539.2,744.5 L1541.4,741.9 L1543.6,744.5 L1545.8,742.7 L1548.0,744.2 L1550.2,745.4 L1552.4,744.4 L1554.6,743.1 L1556.8,743.8 L1559.0,743.4 L1561.2,742.5 L1563.4,742.6 L1565.0,744.0" fill="none" stroke="#939594" stroke-width="4.2" stroke-linejoin="round" stroke-linecap="round" />
<path d="M894.6,732.8 L896.8,728.5 L899.0,727.7 L901.2,724.8 L903.4,717.6 L905.6,707.5 L907.8,703.4 L910.0,696.9 L912.2,696.5 L914.4,695.2 L916.6,688.4 L918.8,689.4 L921.0,687.1 L923.2,683.4 L925.4,677.7 L927.6,674.2 L929.8,669.1 L932.0,667.4 L934.2,666.2 L936.4,665.1 L938.6,665.8 L940.8,667.1 L943.0,667.1 L945.2,665.8 L947.4,664.0 L949.6,663.3 L951.8,661.7 L954.0,660.7 L956.2,666.0 L958.4,668.1 L960.6,665.4 L962.8,666.8 L965.0,668.1 L967.2,668.9 L969.4,668.5 L971.6,669.3 L973.8,667.9 L976.0,669.4 L978.2,670.9 L980.4,671.6 L982.6,675.3 L984.8,676.0 L987.0,677.9 L989.2,677.7 L991.4,681.1 L993.6,680.1 L995.8,683.8 L998.0,682.1 L1000.2,686.5 L1002.4,691.0 L1004.6,691.7 L1006.8,694.4 L1009.0,694.1 L1011.2,700.1 L1013.4,700.8 L1015.6,701.8 L1017.8,704.0 L1020.0,705.3 L1022.2,707.9 L1024.4,707.3 L1026.6,705.9 L1028.8,708.0 L1031.0,710.6 L1033.2,710.3 L1035.4,709.6 L1037.6,711.5 L1039.8,711.4 L1042.0,712.7 L1044.2,710.6 L1046.4,712.4 L1048.6,715.8 L1050.8,716.3 L1053.0,718.9 L1055.2,722.6 L1057.4,720.9 L1059.6,722.8 L1061.8,722.8 L1064.0,723.7 L1066.2,725.4 L1068.4,724.5 L1070.6,724.6 L1072.8,729.7 L1075.0,728.6 L1077.2,730.8 L1079.4,730.2 L1081.6,730.7 L1083.8,731.9 L1086.0,732.4 L1088.2,730.4 L1090.4,733.9 L1092.6,731.5 L1094.8,733.4 L1097.0,736.7 L1099.2,734.0 L1101.4,736.4 L1103.6,734.3 L1105.8,736.1 L1108.0,735.8 L1110.2,736.8 L1112.4,735.7 L1114.6,736.1 L1116.8,738.1 L1119.0,736.1 L1121.2,737.4 L1123.4,739.6 L1125.6,738.3 L1127.8,738.2 L1130.0,738.1 L1132.2,739.9 L1134.4,739.5 L1136.6,740.3 L1138.8,740.1 L1141.0,742.9 L1143.2,740.2 L1145.4,738.5 L1147.6,741.3 L1149.8,741.4 L1152.0,741.9 L1154.2,739.9 L1156.4,743.6 L1158.6,742.4 L1160.8,742.7 L1163.0,741.0 L1165.2,743.8 L1167.4,743.4 L1169.6,745.4 L1171.8,743.3 L1174.0,742.4 L1176.2,744.3 L1178.4,743.1 L1180.6,744.9 L1182.8,743.0 L1185.0,744.3 L1187.2,744.3 L1189.4,744.6 L1191.6,744.0 L1193.8,743.7 L1196.0,744.7 L1198.2,744.1 L1200.4,745.1 L1202.6,744.6 L1204.8,742.1 L1207.0,744.9 L1209.2,746.8 L1211.4,745.5 L1213.6,745.9 L1215.8,745.7 L1218.0,744.6 L1220.2,743.5 L1222.4,746.3 L1224.6,746.6 L1226.8,746.0 L1229.0,745.9 L1231.2,745.9 L1233.4,745.4 L1235.6,745.8 L1237.8,745.5 L1240.0,745.9 L1242.2,744.3 L1244.4,744.7 L1246.6,746.3 L1248.8,745.2 L1251.0,742.6 L1253.2,745.8 L1255.4,742.8 L1257.6,748.1 L1259.8,746.6 L1262.0,746.6 L1264.2,744.9 L1266.4,744.4 L1268.6,745.5 L1270.8,745.9 L1273.0,744.9 L1275.2,746.1 L1277.4,746.8 L1279.6,746.7 L1281.8,744.7 L1284.0,743.3 L1286.2,746.0 L1288.4,745.2 L1290.6,746.6 L1292.8,748.1 L1295.0,748.2 L1297.2,746.5 L1299.4,747.6 L1301.6,748.2 L1303.8,746.3 L1306.0,746.6 L1308.2,747.3 L1310.4,746.2 L1312.6,745.7 L1314.8,745.4 L1317.0,746.4 L1319.2,745.6 L1321.4,747.4 L1323.6,746.0 L1325.8,748.3 L1328.0,748.0 L1330.2,745.0 L1332.4,747.9 L1334.6,746.1 L1336.8,748.3 L1339.0,747.2 L1341.2,746.6 L1343.4,747.5 L1345.6,746.0 L1347.8,747.1 L1350.0,747.2 L1352.2,746.6 L1354.4,747.2 L1356.6,745.5 L1358.8,747.5 L1361.0,745.3 L1363.2,747.6 L1365.4,747.5 L1367.6,747.8 L1369.8,746.2 L1372.0,750.7 L1374.2,746.7 L1376.4,747.2 L1378.6,746.1 L1380.8,748.8 L1383.0,746.5 L1385.2,748.3 L1387.4,745.9 L1389.6,747.5 L1391.8,746.7 L1394.0,748.3 L1396.2,746.8 L1398.4,746.1 L1400.6,747.8 L1402.8,745.7 L1405.0,746.0 L1407.2,748.2 L1409.4,745.0 L1411.6,748.2 L1413.8,746.8 L1416.0,746.2 L1418.2,747.6 L1420.4,748.1 L1422.6,746.7 L1424.8,747.2 L1427.0,748.4 L1429.2,748.4 L1431.4,747.4 L1433.6,746.5 L1435.8,746.3 L1438.0,746.8 L1440.2,748.3 L1442.4,748.2 L1444.6,747.9 L1446.8,749.3 L1449.0,747.2 L1451.2,747.1 L1453.4,747.1 L1455.6,750.0 L1457.8,745.1 L1460.0,748.0 L1462.2,748.2 L1464.4,747.7 L1466.6,750.5 L1468.8,749.1 L1471.0,748.6 L1473.2,746.6 L1475.4,748.3 L1477.6,747.3 L1479.8,747.8 L1482.0,748.0 L1484.2,747.2 L1486.4,748.6 L1488.6,749.8 L1490.8,749.1 L1493.0,748.1 L1495.2,745.5 L1497.4,749.2 L1499.6,749.2 L1501.8,747.6 L1504.0,747.3 L1506.2,748.7 L1508.4,746.9 L1510.6,748.9 L1512.8,746.6 L1515.0,746.8 L1517.2,747.9 L1519.4,746.1 L1521.6,747.9 L1523.8,748.6 L1526.0,746.3 L1528.2,749.1 L1530.4,747.3 L1532.6,748.6 L1534.8,748.2 L1537.0,747.4 L1539.2,747.3 L1541.4,745.9 L1543.6,747.1 L1545.8,747.0 L1548.0,750.0 L1550.2,749.2 L1552.4,746.3 L1554.6,749.0 L1556.8,748.3 L1559.0,747.5 L1561.2,748.6 L1563.4,749.0 L1565.0,747.3" fill="none" stroke="#2f4fae" stroke-width="4.5" stroke-linejoin="round" stroke-linecap="round" />
<line x1="948.5" y1="80.5" x2="948.5" y2="753.9" stroke="#111" stroke-width="2.6" stroke-dasharray="3.3 3.3"/>
<line x1="1315.5" y1="80.5" x2="1315.5" y2="753.9" stroke="#111" stroke-width="2.6" stroke-dasharray="3.3 3.3"/>
<line x1="963.8" y1="143.8" x2="1288" y2="143.8" stroke="#111" stroke-width="3.2" />
<polygon points="1302,143.8 1285,135.8 1285,151.8" fill="#111"/>
<text transform="translate(1073.30,127.85) scale(0.9860,1)" font-size="34.51" font-family="'Liberation Sans', Arial, Helvetica, sans-serif" fill="#1a1a1a">20 ns</text>
<line x1="973.3" y1="664.4" x2="1288" y2="252.5" stroke="#e0321f" stroke-width="5.5" stroke-dasharray="5.5 4.5"/>
<polygon points="1301.7,233.3 1279.4,242.2 1298.3,255.6" fill="#e0321f"/>
<text transform="translate(1014.56,791.62) scale(1.0284,1)" font-size="28.03" font-family="'Liberation Sans', Arial, Helvetica, sans-serif" fill="#1a1a1a">20</text>
<text transform="translate(1191.69,791.62) scale(0.9872,1)" font-size="28.03" font-family="'Liberation Sans', Arial, Helvetica, sans-serif" fill="#1a1a1a">30</text>
<text transform="translate(1367.74,791.62) scale(0.9956,1)" font-size="28.03" font-family="'Liberation Sans', Arial, Helvetica, sans-serif" fill="#1a1a1a">40</text>
<text transform="translate(1544.63,791.62) scale(0.9526,1)" font-size="28.03" font-family="'Liberation Sans', Arial, Helvetica, sans-serif" fill="#1a1a1a">50</text>
<text transform="translate(1106.64,846.69) scale(1.0246,1)" font-size="56.70" font-family="'Liberation Sans', Arial, Helvetica, sans-serif" fill="#1a1a1a">Time (ns)</text>
<line x1="290.9" y1="912.2" x2="290.9" y2="925.7" stroke="#1a1a1a" stroke-width="2.6" />
<line x1="290.9" y1="1381.6" x2="290.9" y2="1368.1" stroke="#1a1a1a" stroke-width="2.6" />
<line x1="538.2" y1="912.2" x2="538.2" y2="925.7" stroke="#1a1a1a" stroke-width="2.6" />
<line x1="538.2" y1="1381.6" x2="538.2" y2="1368.1" stroke="#1a1a1a" stroke-width="2.6" />
<line x1="785.5" y1="912.2" x2="785.5" y2="925.7" stroke="#1a1a1a" stroke-width="2.6" />
<line x1="785.5" y1="1381.6" x2="785.5" y2="1368.1" stroke="#1a1a1a" stroke-width="2.6" />
<line x1="1032.8" y1="912.2" x2="1032.8" y2="925.7" stroke="#1a1a1a" stroke-width="2.6" />
<line x1="1032.8" y1="1381.6" x2="1032.8" y2="1368.1" stroke="#1a1a1a" stroke-width="2.6" />
<line x1="1280.1" y1="912.2" x2="1280.1" y2="925.7" stroke="#1a1a1a" stroke-width="2.6" />
<line x1="1280.1" y1="1381.6" x2="1280.1" y2="1368.1" stroke="#1a1a1a" stroke-width="2.6" />
<line x1="241.5" y1="1068.8" x2="255.0" y2="1068.8" stroke="#1a1a1a" stroke-width="2.6" />
<line x1="1527.4" y1="1068.8" x2="1513.9" y2="1068.8" stroke="#1a1a1a" stroke-width="2.6" />
<line x1="241.5" y1="1225.3" x2="255.0" y2="1225.3" stroke="#1a1a1a" stroke-width="2.6" />
<line x1="1527.4" y1="1225.3" x2="1513.9" y2="1225.3" stroke="#1a1a1a" stroke-width="2.6" />
<text transform="translate(277.53,1425.16) scale(1.0002,1)" font-size="44.37" font-family="'Liberation Sans', Arial, Helvetica, sans-serif" fill="#1a1a1a">0</text>
<text transform="translate(525.43,1425.15) scale(0.9861,1)" font-size="45.00" font-family="'Liberation Sans', Arial, Helvetica, sans-serif" fill="#1a1a1a">5</text>
<text transform="translate(760.40,1425.16) scale(0.9585,1)" font-size="44.37" font-family="'Liberation Sans', Arial, Helvetica, sans-serif" fill="#1a1a1a">10</text>
<text transform="translate(1007.23,1425.15) scale(0.9652,1)" font-size="45.00" font-family="'Liberation Sans', Arial, Helvetica, sans-serif" fill="#1a1a1a">15</text>
<text transform="translate(1252.91,1425.16) scale(0.9878,1)" font-size="44.37" font-family="'Liberation Sans', Arial, Helvetica, sans-serif" fill="#1a1a1a">20</text>
<text transform="translate(1500.27,1425.16) scale(1.0054,1)" font-size="44.37" font-family="'Liberation Sans', Arial, Helvetica, sans-serif" fill="#1a1a1a">25</text>
<text transform="translate(133.37,913.56) scale(0.9877,1)" font-size="43.80" font-family="'Liberation Sans', Arial, Helvetica, sans-serif" fill="#1a1a1a">0.15</text>
<text transform="translate(159.52,1070.05) scale(0.8856,1)" font-size="44.65" font-family="'Liberation Sans', Arial, Helvetica, sans-serif" fill="#1a1a1a">0.1</text>
<text transform="translate(132.75,1226.85) scale(0.9706,1)" font-size="45.07" font-family="'Liberation Sans', Arial, Helvetica, sans-serif" fill="#1a1a1a">0.05</text>
<text transform="translate(198.24,1382.46) scale(0.9971,1)" font-size="44.08" font-family="'Liberation Sans', Arial, Helvetica, sans-serif" fill="#1a1a1a">0</text>
<text transform="translate(632.90,1493.25) scale(0.9854,1)" font-size="58.83" font-family="'Liberation Sans', Arial, Helvetica, sans-serif" fill="#1a1a1a">Control pulse width (ns)</text>
<text transform="translate(95.95,1418.08) rotate(-90) scale(0.9961,1)" font-size="57.87" font-family="'Liberation Sans', Arial, Helvetica, sans-serif" fill="#1a1a1a">Signal output (a. u.)</text>
<rect x="241.5" y="912.2" width="1285.9" height="469.4" fill="none" stroke="#1a1a1a" stroke-width="2.7"/>
<path d="M287.4,1031.4 L300,1072 L313.3,1113.3 L326.7,1122.9 L351.4,1132.4 L364.8,1134.3 L381.9,1128.6 L401,1124.8 L412.4,1123.6 L435.2,1132.4 L450.5,1141.9 L465.7,1155.2 L481,1152.2 L507.6,1151.4 L538.1,1152.6 L557.1,1157.9 L580,1168.6 L595.2,1170.5 L641,1170.5 L656.2,1172.4 L679,1179.2 L705.7,1185 L755.2,1186.9 L808.6,1193.3 L867.5,1200 L1032.3,1218 L1191.4,1233.4 L1282.3,1240.8 L1534,1260.8" fill="none" stroke="#e0321f" stroke-width="9.5" stroke-dasharray="28.8 9.64" stroke-dashoffset="1.5" stroke-linejoin="round"/>
<rect x="269.1" y="958.9" width="42.8" height="42.8" fill="#3450aa" stroke="#000" stroke-width="3.4"/>
<rect x="518.0" y="1088.7" width="42.8" height="42.8" fill="#3450aa" stroke="#000" stroke-width="3.4"/>
<rect x="764.0" y="1177.1" width="42.8" height="42.8" fill="#3450aa" stroke="#000" stroke-width="3.4"/>
<rect x="1012.3" y="1237.9" width="42.8" height="42.8" fill="#3450aa" stroke="#000" stroke-width="3.4"/>
<rect x="1258.4" y="1229.4" width="42.8" height="42.8" fill="#3450aa" stroke="#000" stroke-width="3.4"/>
<rect x="1121.1" y="947.8" width="357.5" height="129.2" fill="#fff" stroke="#1a1a1a" stroke-width="2"/>
<rect x="1159.5" y="970.7" width="38.5" height="38.8" fill="#3450aa" stroke="#000" stroke-width="3.4"/>
<line x1="1145" y1="1040.9" x2="1213.3" y2="1040.9" stroke="#e0321f" stroke-width="9.7" stroke-dasharray="29.7 8.9"/>
<text transform="translate(1244.32,1002.49) scale(1.0547,1)" font-size="37.66" font-family="'Liberation Sans', Arial, Helvetica, sans-serif" fill="#1a1a1a">Experiment</text>
<text transform="translate(1245.02,1054.82) scale(1.0373,1)" font-size="38.24" font-family="'Liberation Sans', Arial, Helvetica, sans-serif" fill="#1a1a1a">Calculation</text>
</svg></body></html>
